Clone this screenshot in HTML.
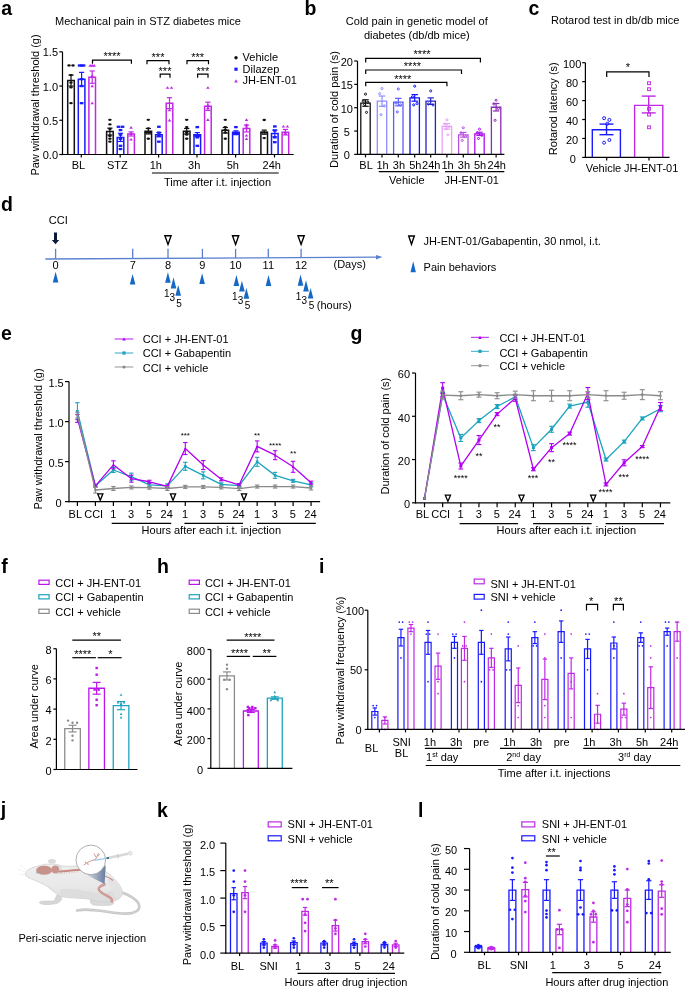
<!DOCTYPE html>
<html><head><meta charset="utf-8"><style>
html,body{margin:0;padding:0;background:#fff;}
svg{display:block;will-change:transform;}
text{font-family:"Liberation Sans", sans-serif;fill:#000;}
</style></head><body>
<svg width="685" height="989" viewBox="0 0 685 989">
<rect width="685" height="989" fill="#fff"/>
<text x="1.3" y="14.6" font-size="19.5" font-weight="bold">a</text>
<text x="304.4" y="14.8" font-size="19.5" font-weight="bold">b</text>
<text x="528.4" y="15" font-size="19.5" font-weight="bold">c</text>
<text x="1.1" y="211.4" font-size="19.5" font-weight="bold">d</text>
<text x="0.9" y="340.3" font-size="19.5" font-weight="bold">e</text>
<text x="350.5" y="340.1" font-size="19.5" font-weight="bold">g</text>
<text x="1.2" y="572.5" font-size="19.5" font-weight="bold">f</text>
<text x="157.1" y="572.5" font-size="19.5" font-weight="bold">h</text>
<text x="318.9" y="572.5" font-size="19.5" font-weight="bold">i</text>
<text x="0.8" y="816.3" font-size="19.5" font-weight="bold">j</text>
<text x="157.1" y="816.5" font-size="19.5" font-weight="bold">k</text>
<text x="418" y="816.5" font-size="19.5" font-weight="bold">l</text>
<text x="55" y="25" font-size="11">Mechanical pain in STZ diabetes mice</text>
<path d="M67.7 154.5V80.57H74.3V154.5" stroke="#111111" stroke-width="1.5" fill="#fff" stroke-linejoin="miter"/>
<path d="M78.3 154.5V79.2H84.9V154.5" stroke="#1a1aff" stroke-width="1.5" fill="#fff" stroke-linejoin="miter"/>
<path d="M88.9 154.5V77.15H95.5V154.5" stroke="#c028e6" stroke-width="1.5" fill="#fff" stroke-linejoin="miter"/>
<line x1="71" y1="75.1" x2="71" y2="86.05" stroke="#111111" stroke-width="1.2"/>
<line x1="68.4" y1="75.1" x2="73.6" y2="75.1" stroke="#111111" stroke-width="1.2"/>
<line x1="68.4" y1="86.05" x2="73.6" y2="86.05" stroke="#111111" stroke-width="1.2"/>
<ellipse cx="69" cy="65.51" rx="1.8" ry="1.15" fill="#111111"/>
<ellipse cx="73" cy="65.51" rx="1.8" ry="1.15" fill="#111111"/>
<ellipse cx="71" cy="75.1" rx="1.8" ry="1.15" fill="#111111"/>
<ellipse cx="71" cy="82.63" rx="1.8" ry="1.15" fill="#111111"/>
<ellipse cx="71" cy="87.42" rx="1.8" ry="1.15" fill="#111111"/>
<ellipse cx="71" cy="103.16" rx="1.8" ry="1.15" fill="#111111"/>
<line x1="81.6" y1="72.36" x2="81.6" y2="86.05" stroke="#1a1aff" stroke-width="1.2"/>
<line x1="79" y1="72.36" x2="84.2" y2="72.36" stroke="#1a1aff" stroke-width="1.2"/>
<line x1="79" y1="86.05" x2="84.2" y2="86.05" stroke="#1a1aff" stroke-width="1.2"/>
<rect x="77.8" y="64.36" width="3.6" height="2.3" fill="#1a1aff"/>
<rect x="79.8" y="64.36" width="3.6" height="2.3" fill="#1a1aff"/>
<rect x="81.8" y="64.36" width="3.6" height="2.3" fill="#1a1aff"/>
<rect x="79.8" y="78.05" width="3.6" height="2.3" fill="#1a1aff"/>
<rect x="79.8" y="84.9" width="3.6" height="2.3" fill="#1a1aff"/>
<rect x="79.8" y="102.01" width="3.6" height="2.3" fill="#1a1aff"/>
<line x1="92.2" y1="70.99" x2="92.2" y2="83.31" stroke="#c028e6" stroke-width="1.2"/>
<line x1="89.6" y1="70.99" x2="94.8" y2="70.99" stroke="#c028e6" stroke-width="1.2"/>
<line x1="89.6" y1="83.31" x2="94.8" y2="83.31" stroke="#c028e6" stroke-width="1.2"/>
<path d="M90.2 64.06L92 66.66L88.4 66.66Z" fill="#c028e6"/>
<path d="M92.2 64.06L94 66.66L90.4 66.66Z" fill="#c028e6"/>
<path d="M94.2 64.06L96 66.66L92.4 66.66Z" fill="#c028e6"/>
<path d="M92.2 74.33L94 76.93L90.4 76.93Z" fill="#c028e6"/>
<path d="M92.2 84.6L94 87.2L90.4 87.2Z" fill="#c028e6"/>
<path d="M92.2 101.71L94 104.31L90.4 104.31Z" fill="#c028e6"/>
<text x="78.5" y="168.8" font-size="11" text-anchor="middle">BL</text>
<path d="M106.6 154.5V131.57H113.2V154.5" stroke="#111111" stroke-width="1.5" fill="#fff" stroke-linejoin="miter"/>
<path d="M117.2 154.5V137.39H123.8V154.5" stroke="#1a1aff" stroke-width="1.5" fill="#fff" stroke-linejoin="miter"/>
<path d="M127.8 154.5V133.97H134.4V154.5" stroke="#c028e6" stroke-width="1.5" fill="#fff" stroke-linejoin="miter"/>
<line x1="109.9" y1="128.15" x2="109.9" y2="134.99" stroke="#111111" stroke-width="1.2"/>
<line x1="107.3" y1="128.15" x2="112.5" y2="128.15" stroke="#111111" stroke-width="1.2"/>
<line x1="107.3" y1="134.99" x2="112.5" y2="134.99" stroke="#111111" stroke-width="1.2"/>
<ellipse cx="109.9" cy="119.8" rx="1.8" ry="1.15" fill="#111111"/>
<ellipse cx="109.9" cy="124.38" rx="1.8" ry="1.15" fill="#111111"/>
<ellipse cx="109.9" cy="128.9" rx="1.8" ry="1.15" fill="#111111"/>
<ellipse cx="109.9" cy="136.02" rx="1.8" ry="1.15" fill="#111111"/>
<ellipse cx="109.9" cy="138.76" rx="1.8" ry="1.15" fill="#111111"/>
<ellipse cx="109.9" cy="141.7" rx="1.8" ry="1.15" fill="#111111"/>
<line x1="120.5" y1="133.28" x2="120.5" y2="141.49" stroke="#1a1aff" stroke-width="1.2"/>
<line x1="117.9" y1="133.28" x2="123.1" y2="133.28" stroke="#1a1aff" stroke-width="1.2"/>
<line x1="117.9" y1="141.49" x2="123.1" y2="141.49" stroke="#1a1aff" stroke-width="1.2"/>
<rect x="116.7" y="125.63" width="3.6" height="2.3" fill="#1a1aff"/>
<rect x="120.7" y="125.63" width="3.6" height="2.3" fill="#1a1aff"/>
<rect x="118.7" y="128.91" width="3.6" height="2.3" fill="#1a1aff"/>
<rect x="118.7" y="133.5" width="3.6" height="2.3" fill="#1a1aff"/>
<rect x="118.7" y="137.61" width="3.6" height="2.3" fill="#1a1aff"/>
<rect x="118.7" y="144.66" width="3.6" height="2.3" fill="#1a1aff"/>
<rect x="118.7" y="147.87" width="3.6" height="2.3" fill="#1a1aff"/>
<line x1="131.1" y1="131.91" x2="131.1" y2="136.02" stroke="#c028e6" stroke-width="1.2"/>
<line x1="128.5" y1="131.91" x2="133.7" y2="131.91" stroke="#c028e6" stroke-width="1.2"/>
<line x1="128.5" y1="136.02" x2="133.7" y2="136.02" stroke="#c028e6" stroke-width="1.2"/>
<path d="M131.1 126.08L132.9 128.68L129.3 128.68Z" fill="#c028e6"/>
<path d="M131.1 131.83L132.9 134.43L129.3 134.43Z" fill="#c028e6"/>
<path d="M131.1 132.51L132.9 135.12L129.3 135.12Z" fill="#c028e6"/>
<path d="M131.1 137.99L132.9 140.59L129.3 140.59Z" fill="#c028e6"/>
<text x="117.4" y="168.8" font-size="11" text-anchor="middle">STZ</text>
<path d="M145 154.5V131.23H151.6V154.5" stroke="#111111" stroke-width="1.5" fill="#fff" stroke-linejoin="miter"/>
<path d="M155.6 154.5V134.65H162.2V154.5" stroke="#1a1aff" stroke-width="1.5" fill="#fff" stroke-linejoin="miter"/>
<path d="M166.2 154.5V103.16H172.8V154.5" stroke="#c028e6" stroke-width="1.5" fill="#fff" stroke-linejoin="miter"/>
<line x1="148.3" y1="128.49" x2="148.3" y2="133.97" stroke="#111111" stroke-width="1.2"/>
<line x1="145.7" y1="128.49" x2="150.9" y2="128.49" stroke="#111111" stroke-width="1.2"/>
<line x1="145.7" y1="133.97" x2="150.9" y2="133.97" stroke="#111111" stroke-width="1.2"/>
<ellipse cx="148.3" cy="119.8" rx="1.8" ry="1.15" fill="#111111"/>
<ellipse cx="148.3" cy="128.28" rx="1.8" ry="1.15" fill="#111111"/>
<ellipse cx="146.3" cy="132.6" rx="1.8" ry="1.15" fill="#111111"/>
<ellipse cx="150.3" cy="132.6" rx="1.8" ry="1.15" fill="#111111"/>
<ellipse cx="148.3" cy="138.76" rx="1.8" ry="1.15" fill="#111111"/>
<line x1="158.9" y1="132.6" x2="158.9" y2="136.7" stroke="#1a1aff" stroke-width="1.2"/>
<line x1="156.3" y1="132.6" x2="161.5" y2="132.6" stroke="#1a1aff" stroke-width="1.2"/>
<line x1="156.3" y1="136.7" x2="161.5" y2="136.7" stroke="#1a1aff" stroke-width="1.2"/>
<rect x="157.1" y="125.63" width="3.6" height="2.3" fill="#1a1aff"/>
<rect x="157.1" y="131.45" width="3.6" height="2.3" fill="#1a1aff"/>
<rect x="157.1" y="134.87" width="3.6" height="2.3" fill="#1a1aff"/>
<rect x="157.1" y="140.55" width="3.6" height="2.3" fill="#1a1aff"/>
<line x1="169.5" y1="97.69" x2="169.5" y2="108.64" stroke="#c028e6" stroke-width="1.2"/>
<line x1="166.9" y1="97.69" x2="172.1" y2="97.69" stroke="#c028e6" stroke-width="1.2"/>
<line x1="166.9" y1="108.64" x2="172.1" y2="108.64" stroke="#c028e6" stroke-width="1.2"/>
<path d="M167.5 86.24L169.3 88.84L165.7 88.84Z" fill="#c028e6"/>
<path d="M171.5 86.24L173.3 88.84L169.7 88.84Z" fill="#c028e6"/>
<path d="M169.5 108.56L171.3 111.16L167.7 111.16Z" fill="#c028e6"/>
<path d="M169.5 118.83L171.3 121.43L167.7 121.43Z" fill="#c028e6"/>
<text x="155.8" y="168.8" font-size="11" text-anchor="middle">1h</text>
<path d="M183.4 154.5V131.23H190V154.5" stroke="#111111" stroke-width="1.5" fill="#fff" stroke-linejoin="miter"/>
<path d="M194 154.5V134.65H200.6V154.5" stroke="#1a1aff" stroke-width="1.5" fill="#fff" stroke-linejoin="miter"/>
<path d="M204.6 154.5V106.24H211.2V154.5" stroke="#c028e6" stroke-width="1.5" fill="#fff" stroke-linejoin="miter"/>
<line x1="186.7" y1="128.49" x2="186.7" y2="133.97" stroke="#111111" stroke-width="1.2"/>
<line x1="184.1" y1="128.49" x2="189.3" y2="128.49" stroke="#111111" stroke-width="1.2"/>
<line x1="184.1" y1="133.97" x2="189.3" y2="133.97" stroke="#111111" stroke-width="1.2"/>
<ellipse cx="186.7" cy="119.8" rx="1.8" ry="1.15" fill="#111111"/>
<ellipse cx="186.7" cy="127.12" rx="1.8" ry="1.15" fill="#111111"/>
<ellipse cx="186.7" cy="132.6" rx="1.8" ry="1.15" fill="#111111"/>
<ellipse cx="186.7" cy="134.65" rx="1.8" ry="1.15" fill="#111111"/>
<ellipse cx="186.7" cy="138.76" rx="1.8" ry="1.15" fill="#111111"/>
<line x1="197.3" y1="132.6" x2="197.3" y2="136.7" stroke="#1a1aff" stroke-width="1.2"/>
<line x1="194.7" y1="132.6" x2="199.9" y2="132.6" stroke="#1a1aff" stroke-width="1.2"/>
<line x1="194.7" y1="136.7" x2="199.9" y2="136.7" stroke="#1a1aff" stroke-width="1.2"/>
<rect x="195.5" y="125.97" width="3.6" height="2.3" fill="#1a1aff"/>
<rect x="193.5" y="134.18" width="3.6" height="2.3" fill="#1a1aff"/>
<rect x="195.5" y="134.18" width="3.6" height="2.3" fill="#1a1aff"/>
<rect x="197.5" y="134.18" width="3.6" height="2.3" fill="#1a1aff"/>
<rect x="195.5" y="136.24" width="3.6" height="2.3" fill="#1a1aff"/>
<rect x="195.5" y="144.66" width="3.6" height="2.3" fill="#1a1aff"/>
<line x1="207.9" y1="102.14" x2="207.9" y2="110.35" stroke="#c028e6" stroke-width="1.2"/>
<line x1="205.3" y1="102.14" x2="210.5" y2="102.14" stroke="#c028e6" stroke-width="1.2"/>
<line x1="205.3" y1="110.35" x2="210.5" y2="110.35" stroke="#c028e6" stroke-width="1.2"/>
<path d="M207.9 86.24L209.7 88.84L206.1 88.84Z" fill="#c028e6"/>
<path d="M207.9 103.77L209.7 106.37L206.1 106.37Z" fill="#c028e6"/>
<path d="M207.9 106.5L209.7 109.1L206.1 109.1Z" fill="#c028e6"/>
<path d="M207.9 118.35L209.7 120.95L206.1 120.95Z" fill="#c028e6"/>
<text x="194.2" y="168.8" font-size="11" text-anchor="middle">3h</text>
<path d="M222 154.5V130.27H228.6V154.5" stroke="#111111" stroke-width="1.5" fill="#fff" stroke-linejoin="miter"/>
<path d="M232.6 154.5V132.19H239.2V154.5" stroke="#1a1aff" stroke-width="1.5" fill="#fff" stroke-linejoin="miter"/>
<path d="M243.2 154.5V128.49H249.8V154.5" stroke="#c028e6" stroke-width="1.5" fill="#fff" stroke-linejoin="miter"/>
<line x1="225.3" y1="127.53" x2="225.3" y2="133.01" stroke="#111111" stroke-width="1.2"/>
<line x1="222.7" y1="127.53" x2="227.9" y2="127.53" stroke="#111111" stroke-width="1.2"/>
<line x1="222.7" y1="133.01" x2="227.9" y2="133.01" stroke="#111111" stroke-width="1.2"/>
<ellipse cx="225.3" cy="119.8" rx="1.8" ry="1.15" fill="#111111"/>
<ellipse cx="225.3" cy="127.12" rx="1.8" ry="1.15" fill="#111111"/>
<ellipse cx="225.3" cy="129.86" rx="1.8" ry="1.15" fill="#111111"/>
<ellipse cx="225.3" cy="132.6" rx="1.8" ry="1.15" fill="#111111"/>
<ellipse cx="225.3" cy="138.76" rx="1.8" ry="1.15" fill="#111111"/>
<line x1="235.9" y1="130.82" x2="235.9" y2="133.55" stroke="#1a1aff" stroke-width="1.2"/>
<line x1="233.3" y1="130.82" x2="238.5" y2="130.82" stroke="#1a1aff" stroke-width="1.2"/>
<line x1="233.3" y1="133.55" x2="238.5" y2="133.55" stroke="#1a1aff" stroke-width="1.2"/>
<rect x="234.1" y="125.97" width="3.6" height="2.3" fill="#1a1aff"/>
<rect x="232.1" y="132.81" width="3.6" height="2.3" fill="#1a1aff"/>
<rect x="233.43" y="132.81" width="3.6" height="2.3" fill="#1a1aff"/>
<rect x="234.77" y="132.81" width="3.6" height="2.3" fill="#1a1aff"/>
<rect x="236.1" y="132.81" width="3.6" height="2.3" fill="#1a1aff"/>
<line x1="246.5" y1="125.07" x2="246.5" y2="131.91" stroke="#c028e6" stroke-width="1.2"/>
<line x1="243.9" y1="125.07" x2="249.1" y2="125.07" stroke="#c028e6" stroke-width="1.2"/>
<line x1="243.9" y1="131.91" x2="249.1" y2="131.91" stroke="#c028e6" stroke-width="1.2"/>
<path d="M246.5 118.35L248.3 120.95L244.7 120.95Z" fill="#c028e6"/>
<path d="M246.5 123.34L248.3 125.94L244.7 125.94Z" fill="#c028e6"/>
<path d="M246.5 124.99L248.3 127.59L244.7 127.59Z" fill="#c028e6"/>
<path d="M246.5 133.88L248.3 136.48L244.7 136.48Z" fill="#c028e6"/>
<path d="M246.5 137.31L248.3 139.91L244.7 139.91Z" fill="#c028e6"/>
<text x="232.8" y="168.8" font-size="11" text-anchor="middle">5h</text>
<path d="M260.9 154.5V132.19H267.5V154.5" stroke="#111111" stroke-width="1.5" fill="#fff" stroke-linejoin="miter"/>
<path d="M271.5 154.5V133.49H278.1V154.5" stroke="#1a1aff" stroke-width="1.5" fill="#fff" stroke-linejoin="miter"/>
<path d="M282.1 154.5V132.19H288.7V154.5" stroke="#c028e6" stroke-width="1.5" fill="#fff" stroke-linejoin="miter"/>
<line x1="264.2" y1="130.13" x2="264.2" y2="134.24" stroke="#111111" stroke-width="1.2"/>
<line x1="261.6" y1="130.13" x2="266.8" y2="130.13" stroke="#111111" stroke-width="1.2"/>
<line x1="261.6" y1="134.24" x2="266.8" y2="134.24" stroke="#111111" stroke-width="1.2"/>
<ellipse cx="264.2" cy="120" rx="1.8" ry="1.15" fill="#111111"/>
<ellipse cx="262.2" cy="132.6" rx="1.8" ry="1.15" fill="#111111"/>
<ellipse cx="266.2" cy="132.6" rx="1.8" ry="1.15" fill="#111111"/>
<ellipse cx="264.2" cy="138.07" rx="1.8" ry="1.15" fill="#111111"/>
<line x1="274.8" y1="130.06" x2="274.8" y2="136.91" stroke="#1a1aff" stroke-width="1.2"/>
<line x1="272.2" y1="130.06" x2="277.4" y2="130.06" stroke="#1a1aff" stroke-width="1.2"/>
<line x1="272.2" y1="136.91" x2="277.4" y2="136.91" stroke="#1a1aff" stroke-width="1.2"/>
<rect x="273" y="125.29" width="3.6" height="2.3" fill="#1a1aff"/>
<rect x="273" y="129.39" width="3.6" height="2.3" fill="#1a1aff"/>
<rect x="273" y="136.24" width="3.6" height="2.3" fill="#1a1aff"/>
<rect x="273" y="141.03" width="3.6" height="2.3" fill="#1a1aff"/>
<line x1="285.4" y1="129.45" x2="285.4" y2="134.92" stroke="#c028e6" stroke-width="1.2"/>
<line x1="282.8" y1="129.45" x2="288" y2="129.45" stroke="#c028e6" stroke-width="1.2"/>
<line x1="282.8" y1="134.92" x2="288" y2="134.92" stroke="#c028e6" stroke-width="1.2"/>
<path d="M283.4 124.99L285.2 127.59L281.6 127.59Z" fill="#c028e6"/>
<path d="M287.4 124.99L289.2 127.59L285.6 127.59Z" fill="#c028e6"/>
<path d="M285.4 131.15L287.2 133.75L283.6 133.75Z" fill="#c028e6"/>
<path d="M285.4 132.51L287.2 135.12L283.6 135.12Z" fill="#c028e6"/>
<text x="271.7" y="168.8" font-size="11" text-anchor="middle">24h</text>
<line x1="152" y1="173" x2="278.7" y2="173" stroke="#000" stroke-width="1.2"/>
<text x="163.9" y="185.6" font-size="11">Time after i.t. injection</text>
<path d="M92.5 63.7V60.2H131.4V63.7" stroke="#000" stroke-width="1.2" fill="none"/>
<text x="112" y="60.42" font-size="11" text-anchor="middle">****</text>
<path d="M147 64.2V60.7H169V64.2" stroke="#000" stroke-width="1.2" fill="none"/>
<text x="158" y="60.92" font-size="11" text-anchor="middle">***</text>
<path d="M160.2 77.7V74.2H170V77.7" stroke="#000" stroke-width="1.2" fill="none"/>
<text x="165" y="75.32" font-size="11" text-anchor="middle">***</text>
<path d="M187 64.2V60.7H208.5V64.2" stroke="#000" stroke-width="1.2" fill="none"/>
<text x="197.7" y="60.92" font-size="11" text-anchor="middle">***</text>
<path d="M197.6 77.7V74.2H208V77.7" stroke="#000" stroke-width="1.2" fill="none"/>
<text x="202.8" y="75.32" font-size="11" text-anchor="middle">***</text>
<circle cx="236" cy="57.8" r="1.7" fill="#111111"/>
<text x="242.6" y="61.3" font-size="11">Vehicle</text>
<rect x="234.4" y="67.6" width="3.2" height="3.2" fill="#1a1aff"/>
<text x="242.6" y="72.8" font-size="11">Dilazep</text>
<path d="M236 79.22L237.76 82.38L234.24 82.38Z" fill="#c028e6"/>
<text x="242.6" y="84.3" font-size="11">JH-ENT-01</text>
<text x="416.8" y="24.8" font-size="11" text-anchor="middle">Cold pain in genetic model of</text>
<text x="416.8" y="38.5" font-size="11" text-anchor="middle">diabetes (db/db mice)</text>
<path d="M360.8 154.4V103.03H370.2V154.4" stroke="#111111" stroke-width="1.3" fill="#fff" stroke-linejoin="miter"/>
<path d="M377.3 154.4V101.16H386.7V154.4" stroke="#8f8fff" stroke-width="1.3" fill="#fff" stroke-linejoin="miter"/>
<path d="M393.6 154.4V102.1H403V154.4" stroke="#5c5cff" stroke-width="1.3" fill="#fff" stroke-linejoin="miter"/>
<path d="M410 154.4V97.89H419.4V154.4" stroke="#0f0fff" stroke-width="1.3" fill="#fff" stroke-linejoin="miter"/>
<path d="M426 154.4V101.16H435.4V154.4" stroke="#2222c8" stroke-width="1.3" fill="#fff" stroke-linejoin="miter"/>
<path d="M442.2 154.4V126.38H451.6V154.4" stroke="#e9a2f7" stroke-width="1.3" fill="#fff" stroke-linejoin="miter"/>
<path d="M458.6 154.4V134.79H468V154.4" stroke="#b94ee2" stroke-width="1.3" fill="#fff" stroke-linejoin="miter"/>
<path d="M474.8 154.4V133.85H484.2V154.4" stroke="#ad10ea" stroke-width="1.3" fill="#fff" stroke-linejoin="miter"/>
<path d="M491.4 154.4V107.23H500.8V154.4" stroke="#8c2cb4" stroke-width="1.3" fill="#fff" stroke-linejoin="miter"/>
<line x1="365.5" y1="99.76" x2="365.5" y2="106.3" stroke="#111111" stroke-width="1.2"/>
<line x1="362.3" y1="99.76" x2="368.7" y2="99.76" stroke="#111111" stroke-width="1.2"/>
<line x1="362.3" y1="106.3" x2="368.7" y2="106.3" stroke="#111111" stroke-width="1.2"/>
<circle cx="365.5" cy="94.16" r="1.05" stroke="#111111" stroke-width="1.0" fill="none"/>
<circle cx="363.2" cy="101.16" r="1.05" stroke="#111111" stroke-width="1.0" fill="none"/>
<circle cx="367.8" cy="102.1" r="1.05" stroke="#111111" stroke-width="1.0" fill="none"/>
<circle cx="364.5" cy="104.43" r="1.05" stroke="#111111" stroke-width="1.0" fill="none"/>
<circle cx="366.5" cy="112.37" r="1.05" stroke="#111111" stroke-width="1.0" fill="none"/>
<text x="366.1" y="168.6" font-size="11" text-anchor="middle">BL</text>
<line x1="382" y1="96.03" x2="382" y2="106.3" stroke="#8f8fff" stroke-width="1.2"/>
<line x1="378.8" y1="96.03" x2="385.2" y2="96.03" stroke="#8f8fff" stroke-width="1.2"/>
<line x1="378.8" y1="106.3" x2="385.2" y2="106.3" stroke="#8f8fff" stroke-width="1.2"/>
<circle cx="382" cy="88.55" r="1.05" stroke="#8f8fff" stroke-width="1.0" fill="none"/>
<circle cx="379.7" cy="93.69" r="1.05" stroke="#8f8fff" stroke-width="1.0" fill="none"/>
<circle cx="384.3" cy="105.83" r="1.05" stroke="#8f8fff" stroke-width="1.0" fill="none"/>
<circle cx="381" cy="114.71" r="1.05" stroke="#8f8fff" stroke-width="1.0" fill="none"/>
<text x="382.6" y="168.6" font-size="11" text-anchor="middle">1h</text>
<line x1="398.3" y1="98.36" x2="398.3" y2="105.83" stroke="#5c5cff" stroke-width="1.2"/>
<line x1="395.1" y1="98.36" x2="401.5" y2="98.36" stroke="#5c5cff" stroke-width="1.2"/>
<line x1="395.1" y1="105.83" x2="401.5" y2="105.83" stroke="#5c5cff" stroke-width="1.2"/>
<circle cx="398.3" cy="89.02" r="1.05" stroke="#5c5cff" stroke-width="1.0" fill="none"/>
<circle cx="396" cy="103.03" r="1.05" stroke="#5c5cff" stroke-width="1.0" fill="none"/>
<circle cx="400.6" cy="104.9" r="1.05" stroke="#5c5cff" stroke-width="1.0" fill="none"/>
<circle cx="397.3" cy="111.9" r="1.05" stroke="#5c5cff" stroke-width="1.0" fill="none"/>
<text x="398.9" y="168.6" font-size="11" text-anchor="middle">3h</text>
<line x1="414.7" y1="94.62" x2="414.7" y2="101.16" stroke="#0f0fff" stroke-width="1.2"/>
<line x1="411.5" y1="94.62" x2="417.9" y2="94.62" stroke="#0f0fff" stroke-width="1.2"/>
<line x1="411.5" y1="101.16" x2="417.9" y2="101.16" stroke="#0f0fff" stroke-width="1.2"/>
<circle cx="414.7" cy="86.22" r="1.05" stroke="#0f0fff" stroke-width="1.0" fill="none"/>
<circle cx="412.4" cy="96.96" r="1.05" stroke="#0f0fff" stroke-width="1.0" fill="none"/>
<circle cx="417" cy="103.5" r="1.05" stroke="#0f0fff" stroke-width="1.0" fill="none"/>
<circle cx="413.7" cy="104.9" r="1.05" stroke="#0f0fff" stroke-width="1.0" fill="none"/>
<text x="415.3" y="168.6" font-size="11" text-anchor="middle">5h</text>
<line x1="430.7" y1="97.89" x2="430.7" y2="104.43" stroke="#2222c8" stroke-width="1.2"/>
<line x1="427.5" y1="97.89" x2="433.9" y2="97.89" stroke="#2222c8" stroke-width="1.2"/>
<line x1="427.5" y1="104.43" x2="433.9" y2="104.43" stroke="#2222c8" stroke-width="1.2"/>
<circle cx="430.7" cy="90.89" r="1.05" stroke="#2222c8" stroke-width="1.0" fill="none"/>
<circle cx="428.4" cy="103.96" r="1.05" stroke="#2222c8" stroke-width="1.0" fill="none"/>
<circle cx="433" cy="104.9" r="1.05" stroke="#2222c8" stroke-width="1.0" fill="none"/>
<text x="431.3" y="168.6" font-size="11" text-anchor="middle">24h</text>
<line x1="446.9" y1="123.58" x2="446.9" y2="129.18" stroke="#e9a2f7" stroke-width="1.2"/>
<line x1="443.7" y1="123.58" x2="450.1" y2="123.58" stroke="#e9a2f7" stroke-width="1.2"/>
<line x1="443.7" y1="129.18" x2="450.1" y2="129.18" stroke="#e9a2f7" stroke-width="1.2"/>
<circle cx="446.9" cy="119.84" r="1.05" stroke="#e9a2f7" stroke-width="1.0" fill="none"/>
<circle cx="444.6" cy="124.05" r="1.05" stroke="#e9a2f7" stroke-width="1.0" fill="none"/>
<circle cx="449.2" cy="126.85" r="1.05" stroke="#e9a2f7" stroke-width="1.0" fill="none"/>
<circle cx="445.9" cy="128.72" r="1.05" stroke="#e9a2f7" stroke-width="1.0" fill="none"/>
<circle cx="447.9" cy="134.79" r="1.05" stroke="#e9a2f7" stroke-width="1.0" fill="none"/>
<text x="447.5" y="168.6" font-size="11" text-anchor="middle">1h</text>
<line x1="463.3" y1="132.45" x2="463.3" y2="137.12" stroke="#b94ee2" stroke-width="1.2"/>
<line x1="460.1" y1="132.45" x2="466.5" y2="132.45" stroke="#b94ee2" stroke-width="1.2"/>
<line x1="460.1" y1="137.12" x2="466.5" y2="137.12" stroke="#b94ee2" stroke-width="1.2"/>
<circle cx="463.3" cy="127.78" r="1.05" stroke="#b94ee2" stroke-width="1.0" fill="none"/>
<circle cx="461" cy="132.92" r="1.05" stroke="#b94ee2" stroke-width="1.0" fill="none"/>
<circle cx="465.6" cy="136.65" r="1.05" stroke="#b94ee2" stroke-width="1.0" fill="none"/>
<circle cx="462.3" cy="140.39" r="1.05" stroke="#b94ee2" stroke-width="1.0" fill="none"/>
<text x="463.9" y="168.6" font-size="11" text-anchor="middle">3h</text>
<line x1="479.5" y1="132.22" x2="479.5" y2="135.49" stroke="#ad10ea" stroke-width="1.2"/>
<line x1="476.3" y1="132.22" x2="482.7" y2="132.22" stroke="#ad10ea" stroke-width="1.2"/>
<line x1="476.3" y1="135.49" x2="482.7" y2="135.49" stroke="#ad10ea" stroke-width="1.2"/>
<circle cx="479.5" cy="129.18" r="1.05" stroke="#ad10ea" stroke-width="1.0" fill="none"/>
<circle cx="477.2" cy="132.92" r="1.05" stroke="#ad10ea" stroke-width="1.0" fill="none"/>
<circle cx="481.8" cy="135.25" r="1.05" stroke="#ad10ea" stroke-width="1.0" fill="none"/>
<circle cx="478.5" cy="138.52" r="1.05" stroke="#ad10ea" stroke-width="1.0" fill="none"/>
<text x="480.1" y="168.6" font-size="11" text-anchor="middle">5h</text>
<line x1="496.1" y1="103.5" x2="496.1" y2="110.97" stroke="#8c2cb4" stroke-width="1.2"/>
<line x1="492.9" y1="103.5" x2="499.3" y2="103.5" stroke="#8c2cb4" stroke-width="1.2"/>
<line x1="492.9" y1="110.97" x2="499.3" y2="110.97" stroke="#8c2cb4" stroke-width="1.2"/>
<circle cx="496.1" cy="100.23" r="1.05" stroke="#8c2cb4" stroke-width="1.0" fill="none"/>
<circle cx="493.8" cy="103.96" r="1.05" stroke="#8c2cb4" stroke-width="1.0" fill="none"/>
<circle cx="498.4" cy="108.63" r="1.05" stroke="#8c2cb4" stroke-width="1.0" fill="none"/>
<circle cx="495.1" cy="120.31" r="1.05" stroke="#8c2cb4" stroke-width="1.0" fill="none"/>
<text x="496.7" y="168.6" font-size="11" text-anchor="middle">24h</text>
<line x1="378.8" y1="171.6" x2="438.7" y2="171.6" stroke="#000" stroke-width="1.2"/>
<line x1="445" y1="171.6" x2="504.3" y2="171.6" stroke="#000" stroke-width="1.2"/>
<text x="406.8" y="184.1" font-size="11" text-anchor="middle">Vehicle</text>
<text x="471.7" y="184.1" font-size="11" text-anchor="middle">JH-ENT-01</text>
<path d="M365.7 62.4V58.4H480.4V62.4" stroke="#000" stroke-width="1.2" fill="none"/>
<text x="422" y="57.72" font-size="11" text-anchor="middle">****</text>
<path d="M365.7 74V70H461.5V74" stroke="#000" stroke-width="1.2" fill="none"/>
<text x="412.4" y="70.32" font-size="11" text-anchor="middle">****</text>
<path d="M365.7 86.3V82.3H446.9V86.3" stroke="#000" stroke-width="1.2" fill="none"/>
<text x="402.8" y="82.72" font-size="11" text-anchor="middle">****</text>
<text x="551" y="24.2" font-size="11">Rotarod test in db/db mice</text>
<path d="M592.3 157.4V129.75H620.4V157.4" stroke="#1a1aff" stroke-width="1.4" fill="#fff" stroke-linejoin="miter"/>
<path d="M634.6 157.4V105.41H662.8V157.4" stroke="#c028e6" stroke-width="1.4" fill="#fff" stroke-linejoin="miter"/>
<line x1="606.5" y1="124.1" x2="606.5" y2="134.7" stroke="#1a1aff" stroke-width="1.4"/>
<line x1="599.5" y1="124.1" x2="613.5" y2="124.1" stroke="#1a1aff" stroke-width="1.4"/>
<line x1="599.5" y1="134.7" x2="613.5" y2="134.7" stroke="#1a1aff" stroke-width="1.4"/>
<line x1="648.7" y1="96.1" x2="648.7" y2="112.9" stroke="#c028e6" stroke-width="1.4"/>
<line x1="641.7" y1="96.1" x2="655.7" y2="96.1" stroke="#c028e6" stroke-width="1.4"/>
<line x1="641.7" y1="112.9" x2="655.7" y2="112.9" stroke="#c028e6" stroke-width="1.4"/>
<circle cx="604.1" cy="118.2" r="1.5" stroke="#1a1aff" stroke-width="1" fill="none"/>
<circle cx="609.4" cy="119.9" r="1.5" stroke="#1a1aff" stroke-width="1" fill="none"/>
<circle cx="607.3" cy="123.7" r="1.5" stroke="#1a1aff" stroke-width="1" fill="none"/>
<circle cx="609.4" cy="140" r="1.5" stroke="#1a1aff" stroke-width="1" fill="none"/>
<circle cx="604.1" cy="142.7" r="1.5" stroke="#1a1aff" stroke-width="1" fill="none"/>
<rect x="647.6" y="81.8" width="2.8" height="2.8" fill="none" stroke="#c028e6" stroke-width="1"/>
<rect x="647.6" y="87.8" width="2.8" height="2.8" fill="none" stroke="#c028e6" stroke-width="1"/>
<rect x="647.6" y="107.4" width="2.8" height="2.8" fill="none" stroke="#c028e6" stroke-width="1"/>
<rect x="647.6" y="113.2" width="2.8" height="2.8" fill="none" stroke="#c028e6" stroke-width="1"/>
<rect x="647.6" y="125.9" width="2.8" height="2.8" fill="none" stroke="#c028e6" stroke-width="1"/>
<text x="603.5" y="172.4" font-size="11" text-anchor="middle">Vehicle</text>
<text x="651.1" y="172.4" font-size="11" text-anchor="middle">JH-ENT-01</text>
<path d="M606.7 77.1V71.8H649V77.1" stroke="#000" stroke-width="1.2" fill="none"/>
<text x="627.8" y="71.22" font-size="11" text-anchor="middle">*</text>
<text x="48.8" y="223.6" font-size="11">CCI</text>
<path d="M54 232.5H57V240H59.2L55.5 244.2L51.8 240H54Z" stroke="none" stroke-width="0" fill="#0a1a3a"/>
<line x1="45.4" y1="259" x2="378" y2="257.2" stroke="#5b80d0" stroke-width="1.3"/>
<path d="M376 255L382.5 257.1L376 259.4Z" stroke="none" stroke-width="0" fill="#5b80d0"/>
<line x1="55.6" y1="248.8" x2="55.6" y2="258.94" stroke="#5b80d0" stroke-width="1.3"/>
<text x="55.6" y="269.4" font-size="11" text-anchor="middle">0</text>
<line x1="132.7" y1="248.8" x2="132.7" y2="258.53" stroke="#5b80d0" stroke-width="1.3"/>
<text x="132.7" y="269.4" font-size="11" text-anchor="middle">7</text>
<line x1="168" y1="248.8" x2="168" y2="258.34" stroke="#5b80d0" stroke-width="1.3"/>
<text x="168" y="269.4" font-size="11" text-anchor="middle">8</text>
<line x1="202.4" y1="248.8" x2="202.4" y2="258.15" stroke="#5b80d0" stroke-width="1.3"/>
<text x="202.4" y="269.4" font-size="11" text-anchor="middle">9</text>
<line x1="235.6" y1="248.8" x2="235.6" y2="257.97" stroke="#5b80d0" stroke-width="1.3"/>
<text x="235.6" y="269.4" font-size="11" text-anchor="middle">10</text>
<line x1="268.3" y1="248.8" x2="268.3" y2="257.79" stroke="#5b80d0" stroke-width="1.3"/>
<text x="268.3" y="269.4" font-size="11" text-anchor="middle">11</text>
<line x1="301.1" y1="248.8" x2="301.1" y2="257.62" stroke="#5b80d0" stroke-width="1.3"/>
<text x="301.1" y="269.4" font-size="11" text-anchor="middle">12</text>
<text x="333.5" y="268.2" font-size="11">(Days)</text>
<path d="M55.6 271.8L58.4 282.6L52.8 282.6Z" stroke="none" stroke-width="0" fill="#1668c4"/>
<path d="M132.6 273.9L135.4 284.6L129.8 284.6Z" stroke="none" stroke-width="0" fill="#1668c4"/>
<path d="M202.1 273.2L204.9 284L199.3 284Z" stroke="none" stroke-width="0" fill="#1668c4"/>
<path d="M268.5 274.9L271.3 286L265.7 286Z" stroke="none" stroke-width="0" fill="#1668c4"/>
<path d="M167.9 272.2L170.7 282.8L165.1 282.8Z" stroke="none" stroke-width="0" fill="#1668c4"/>
<path d="M173.5 277.3L176.3 288.5L170.7 288.5Z" stroke="none" stroke-width="0" fill="#1668c4"/>
<path d="M178.2 285L181 295.8L175.4 295.8Z" stroke="none" stroke-width="0" fill="#1668c4"/>
<path d="M164.9 235.8H171.1L168 244.4Z" stroke="#000" stroke-width="1.4" fill="#fff" stroke-linejoin="miter"/>
<text x="166.7" y="297.4" font-size="10" text-anchor="middle">1</text>
<text x="172.3" y="301" font-size="10" text-anchor="middle">3</text>
<text x="179.1" y="306.9" font-size="10" text-anchor="middle">5</text>
<path d="M236.4 274.9L239.2 286L233.6 286Z" stroke="none" stroke-width="0" fill="#1668c4"/>
<path d="M241.9 280.7L244.7 291.5L239.1 291.5Z" stroke="none" stroke-width="0" fill="#1668c4"/>
<path d="M246.4 288L249.2 298.8L243.6 298.8Z" stroke="none" stroke-width="0" fill="#1668c4"/>
<path d="M232.5 235.8H238.7L235.6 244.4Z" stroke="#000" stroke-width="1.4" fill="#fff" stroke-linejoin="miter"/>
<text x="234.7" y="299.6" font-size="10" text-anchor="middle">1</text>
<text x="240.5" y="304.2" font-size="10" text-anchor="middle">3</text>
<text x="247.5" y="309.3" font-size="10" text-anchor="middle">5</text>
<path d="M300.5 274.6L303.3 285.7L297.7 285.7Z" stroke="none" stroke-width="0" fill="#1668c4"/>
<path d="M306 280.2L308.8 291.4L303.2 291.4Z" stroke="none" stroke-width="0" fill="#1668c4"/>
<path d="M310.6 287.9L313.4 298.5L307.8 298.5Z" stroke="none" stroke-width="0" fill="#1668c4"/>
<path d="M298 235.8H304.2L301.1 244.4Z" stroke="#000" stroke-width="1.4" fill="#fff" stroke-linejoin="miter"/>
<text x="298.6" y="299.9" font-size="10" text-anchor="middle">1</text>
<text x="304.3" y="303.6" font-size="10" text-anchor="middle">3</text>
<text x="311.5" y="308.6" font-size="10" text-anchor="middle">5</text>
<text x="316.8" y="308.7" font-size="11">(hours)</text>
<path d="M408.7 236H414.3L411.5 244.3Z" stroke="#000" stroke-width="1.4" fill="#fff" stroke-linejoin="miter"/>
<text x="423.6" y="244.5" font-size="11">JH-ENT-01/Gabapentin, 30 nmol, i.t.</text>
<path d="M413.2 261.2L415.9 272.2L410.5 272.2Z" stroke="none" stroke-width="0" fill="#1668c4"/>
<text x="423.6" y="271.2" font-size="11">Pain behaviors</text>
<text x="75.3" y="518.4" font-size="11" text-anchor="middle">BL</text>
<text x="93.7" y="518.4" font-size="11" text-anchor="middle">CCI</text>
<text x="113.2" y="518.4" font-size="11" text-anchor="middle">1</text>
<text x="131.17" y="518.4" font-size="11" text-anchor="middle">3</text>
<text x="149.14" y="518.4" font-size="11" text-anchor="middle">5</text>
<text x="166.71" y="518.4" font-size="11" text-anchor="middle">24</text>
<text x="185.08" y="518.4" font-size="11" text-anchor="middle">1</text>
<text x="203.05" y="518.4" font-size="11" text-anchor="middle">3</text>
<text x="221.02" y="518.4" font-size="11" text-anchor="middle">5</text>
<text x="238.59" y="518.4" font-size="11" text-anchor="middle">24</text>
<text x="256.96" y="518.4" font-size="11" text-anchor="middle">1</text>
<text x="274.93" y="518.4" font-size="11" text-anchor="middle">3</text>
<text x="292.9" y="518.4" font-size="11" text-anchor="middle">5</text>
<text x="310.47" y="518.4" font-size="11" text-anchor="middle">24</text>
<line x1="111.7" y1="523.4" x2="171.2" y2="523.4" stroke="#000" stroke-width="1.2"/>
<line x1="184.4" y1="523.4" x2="243" y2="523.4" stroke="#000" stroke-width="1.2"/>
<line x1="257" y1="523.4" x2="315.8" y2="523.4" stroke="#000" stroke-width="1.2"/>
<text x="141.6" y="534.4" font-size="11">Hours after each i.t. injection</text>
<path d="M77.4 411.2 L95.4 485.84 L113.4 470 L131.37 476.64 L149.34 484.8 L167.31 485.84 L185.28 466.32 L203.25 475.36 L221.22 484.32 L239.19 485.6 L257.16 461.84 L275.13 475.36 L293.1 480.8 L311.07 484.8" stroke="#1ca3bd" stroke-width="1.3" fill="none" stroke-linejoin="round"/>
<line x1="77.4" y1="402.7" x2="77.4" y2="419.7" stroke="#1ca3bd" stroke-width="1.1"/>
<line x1="75.2" y1="402.7" x2="79.6" y2="402.7" stroke="#1ca3bd" stroke-width="1.1"/>
<line x1="75.2" y1="419.7" x2="79.6" y2="419.7" stroke="#1ca3bd" stroke-width="1.1"/>
<line x1="95.4" y1="484.84" x2="95.4" y2="486.84" stroke="#1ca3bd" stroke-width="1.1"/>
<line x1="93.2" y1="484.84" x2="97.6" y2="484.84" stroke="#1ca3bd" stroke-width="1.1"/>
<line x1="93.2" y1="486.84" x2="97.6" y2="486.84" stroke="#1ca3bd" stroke-width="1.1"/>
<line x1="113.4" y1="467.5" x2="113.4" y2="472.5" stroke="#1ca3bd" stroke-width="1.1"/>
<line x1="111.2" y1="467.5" x2="115.6" y2="467.5" stroke="#1ca3bd" stroke-width="1.1"/>
<line x1="111.2" y1="472.5" x2="115.6" y2="472.5" stroke="#1ca3bd" stroke-width="1.1"/>
<line x1="131.37" y1="473.14" x2="131.37" y2="480.14" stroke="#1ca3bd" stroke-width="1.1"/>
<line x1="129.17" y1="473.14" x2="133.57" y2="473.14" stroke="#1ca3bd" stroke-width="1.1"/>
<line x1="129.17" y1="480.14" x2="133.57" y2="480.14" stroke="#1ca3bd" stroke-width="1.1"/>
<line x1="149.34" y1="482.8" x2="149.34" y2="486.8" stroke="#1ca3bd" stroke-width="1.1"/>
<line x1="147.14" y1="482.8" x2="151.54" y2="482.8" stroke="#1ca3bd" stroke-width="1.1"/>
<line x1="147.14" y1="486.8" x2="151.54" y2="486.8" stroke="#1ca3bd" stroke-width="1.1"/>
<line x1="167.31" y1="483.84" x2="167.31" y2="487.84" stroke="#1ca3bd" stroke-width="1.1"/>
<line x1="165.11" y1="483.84" x2="169.51" y2="483.84" stroke="#1ca3bd" stroke-width="1.1"/>
<line x1="165.11" y1="487.84" x2="169.51" y2="487.84" stroke="#1ca3bd" stroke-width="1.1"/>
<line x1="185.28" y1="462.32" x2="185.28" y2="470.32" stroke="#1ca3bd" stroke-width="1.1"/>
<line x1="183.08" y1="462.32" x2="187.48" y2="462.32" stroke="#1ca3bd" stroke-width="1.1"/>
<line x1="183.08" y1="470.32" x2="187.48" y2="470.32" stroke="#1ca3bd" stroke-width="1.1"/>
<line x1="203.25" y1="471.86" x2="203.25" y2="478.86" stroke="#1ca3bd" stroke-width="1.1"/>
<line x1="201.05" y1="471.86" x2="205.45" y2="471.86" stroke="#1ca3bd" stroke-width="1.1"/>
<line x1="201.05" y1="478.86" x2="205.45" y2="478.86" stroke="#1ca3bd" stroke-width="1.1"/>
<line x1="221.22" y1="482.82" x2="221.22" y2="485.82" stroke="#1ca3bd" stroke-width="1.1"/>
<line x1="219.02" y1="482.82" x2="223.42" y2="482.82" stroke="#1ca3bd" stroke-width="1.1"/>
<line x1="219.02" y1="485.82" x2="223.42" y2="485.82" stroke="#1ca3bd" stroke-width="1.1"/>
<line x1="239.19" y1="483.6" x2="239.19" y2="487.6" stroke="#1ca3bd" stroke-width="1.1"/>
<line x1="236.99" y1="483.6" x2="241.39" y2="483.6" stroke="#1ca3bd" stroke-width="1.1"/>
<line x1="236.99" y1="487.6" x2="241.39" y2="487.6" stroke="#1ca3bd" stroke-width="1.1"/>
<line x1="257.16" y1="457.34" x2="257.16" y2="466.34" stroke="#1ca3bd" stroke-width="1.1"/>
<line x1="254.96" y1="457.34" x2="259.36" y2="457.34" stroke="#1ca3bd" stroke-width="1.1"/>
<line x1="254.96" y1="466.34" x2="259.36" y2="466.34" stroke="#1ca3bd" stroke-width="1.1"/>
<line x1="275.13" y1="472.36" x2="275.13" y2="478.36" stroke="#1ca3bd" stroke-width="1.1"/>
<line x1="272.93" y1="472.36" x2="277.33" y2="472.36" stroke="#1ca3bd" stroke-width="1.1"/>
<line x1="272.93" y1="478.36" x2="277.33" y2="478.36" stroke="#1ca3bd" stroke-width="1.1"/>
<line x1="293.1" y1="479.3" x2="293.1" y2="482.3" stroke="#1ca3bd" stroke-width="1.1"/>
<line x1="290.9" y1="479.3" x2="295.3" y2="479.3" stroke="#1ca3bd" stroke-width="1.1"/>
<line x1="290.9" y1="482.3" x2="295.3" y2="482.3" stroke="#1ca3bd" stroke-width="1.1"/>
<line x1="311.07" y1="482.8" x2="311.07" y2="486.8" stroke="#1ca3bd" stroke-width="1.1"/>
<line x1="308.87" y1="482.8" x2="313.27" y2="482.8" stroke="#1ca3bd" stroke-width="1.1"/>
<line x1="308.87" y1="486.8" x2="313.27" y2="486.8" stroke="#1ca3bd" stroke-width="1.1"/>
<rect x="76.1" y="409.9" width="2.6" height="2.6" fill="#1ca3bd"/>
<rect x="94.1" y="484.54" width="2.6" height="2.6" fill="#1ca3bd"/>
<rect x="112.1" y="468.7" width="2.6" height="2.6" fill="#1ca3bd"/>
<rect x="130.07" y="475.34" width="2.6" height="2.6" fill="#1ca3bd"/>
<rect x="148.04" y="483.5" width="2.6" height="2.6" fill="#1ca3bd"/>
<rect x="166.01" y="484.54" width="2.6" height="2.6" fill="#1ca3bd"/>
<rect x="183.98" y="465.02" width="2.6" height="2.6" fill="#1ca3bd"/>
<rect x="201.95" y="474.06" width="2.6" height="2.6" fill="#1ca3bd"/>
<rect x="219.92" y="483.02" width="2.6" height="2.6" fill="#1ca3bd"/>
<rect x="237.89" y="484.3" width="2.6" height="2.6" fill="#1ca3bd"/>
<rect x="255.86" y="460.54" width="2.6" height="2.6" fill="#1ca3bd"/>
<rect x="273.83" y="474.06" width="2.6" height="2.6" fill="#1ca3bd"/>
<rect x="291.8" y="479.5" width="2.6" height="2.6" fill="#1ca3bd"/>
<rect x="309.77" y="483.5" width="2.6" height="2.6" fill="#1ca3bd"/>
<path d="M77.4 418.4 L95.4 485.84 L113.4 464.8 L131.37 478.64 L149.34 481.76 L167.31 486.4 L185.28 448.56 L203.25 465.04 L221.22 479.36 L239.19 484.8 L257.16 446.4 L275.13 455.2 L293.1 466.8 L311.07 482.64" stroke="#b000f2" stroke-width="1.3" fill="none" stroke-linejoin="round"/>
<line x1="77.4" y1="414.4" x2="77.4" y2="422.4" stroke="#b000f2" stroke-width="1.1"/>
<line x1="75.2" y1="414.4" x2="79.6" y2="414.4" stroke="#b000f2" stroke-width="1.1"/>
<line x1="75.2" y1="422.4" x2="79.6" y2="422.4" stroke="#b000f2" stroke-width="1.1"/>
<line x1="95.4" y1="484.84" x2="95.4" y2="486.84" stroke="#b000f2" stroke-width="1.1"/>
<line x1="93.2" y1="484.84" x2="97.6" y2="484.84" stroke="#b000f2" stroke-width="1.1"/>
<line x1="93.2" y1="486.84" x2="97.6" y2="486.84" stroke="#b000f2" stroke-width="1.1"/>
<line x1="113.4" y1="460.8" x2="113.4" y2="468.8" stroke="#b000f2" stroke-width="1.1"/>
<line x1="111.2" y1="460.8" x2="115.6" y2="460.8" stroke="#b000f2" stroke-width="1.1"/>
<line x1="111.2" y1="468.8" x2="115.6" y2="468.8" stroke="#b000f2" stroke-width="1.1"/>
<line x1="131.37" y1="475.14" x2="131.37" y2="482.14" stroke="#b000f2" stroke-width="1.1"/>
<line x1="129.17" y1="475.14" x2="133.57" y2="475.14" stroke="#b000f2" stroke-width="1.1"/>
<line x1="129.17" y1="482.14" x2="133.57" y2="482.14" stroke="#b000f2" stroke-width="1.1"/>
<line x1="149.34" y1="480.26" x2="149.34" y2="483.26" stroke="#b000f2" stroke-width="1.1"/>
<line x1="147.14" y1="480.26" x2="151.54" y2="480.26" stroke="#b000f2" stroke-width="1.1"/>
<line x1="147.14" y1="483.26" x2="151.54" y2="483.26" stroke="#b000f2" stroke-width="1.1"/>
<line x1="167.31" y1="485.4" x2="167.31" y2="487.4" stroke="#b000f2" stroke-width="1.1"/>
<line x1="165.11" y1="485.4" x2="169.51" y2="485.4" stroke="#b000f2" stroke-width="1.1"/>
<line x1="165.11" y1="487.4" x2="169.51" y2="487.4" stroke="#b000f2" stroke-width="1.1"/>
<line x1="185.28" y1="442.56" x2="185.28" y2="454.56" stroke="#b000f2" stroke-width="1.1"/>
<line x1="183.08" y1="442.56" x2="187.48" y2="442.56" stroke="#b000f2" stroke-width="1.1"/>
<line x1="183.08" y1="454.56" x2="187.48" y2="454.56" stroke="#b000f2" stroke-width="1.1"/>
<line x1="203.25" y1="460.54" x2="203.25" y2="469.54" stroke="#b000f2" stroke-width="1.1"/>
<line x1="201.05" y1="460.54" x2="205.45" y2="460.54" stroke="#b000f2" stroke-width="1.1"/>
<line x1="201.05" y1="469.54" x2="205.45" y2="469.54" stroke="#b000f2" stroke-width="1.1"/>
<line x1="221.22" y1="477.86" x2="221.22" y2="480.86" stroke="#b000f2" stroke-width="1.1"/>
<line x1="219.02" y1="477.86" x2="223.42" y2="477.86" stroke="#b000f2" stroke-width="1.1"/>
<line x1="219.02" y1="480.86" x2="223.42" y2="480.86" stroke="#b000f2" stroke-width="1.1"/>
<line x1="239.19" y1="483.8" x2="239.19" y2="485.8" stroke="#b000f2" stroke-width="1.1"/>
<line x1="236.99" y1="483.8" x2="241.39" y2="483.8" stroke="#b000f2" stroke-width="1.1"/>
<line x1="236.99" y1="485.8" x2="241.39" y2="485.8" stroke="#b000f2" stroke-width="1.1"/>
<line x1="257.16" y1="440.9" x2="257.16" y2="451.9" stroke="#b000f2" stroke-width="1.1"/>
<line x1="254.96" y1="440.9" x2="259.36" y2="440.9" stroke="#b000f2" stroke-width="1.1"/>
<line x1="254.96" y1="451.9" x2="259.36" y2="451.9" stroke="#b000f2" stroke-width="1.1"/>
<line x1="275.13" y1="450.7" x2="275.13" y2="459.7" stroke="#b000f2" stroke-width="1.1"/>
<line x1="272.93" y1="450.7" x2="277.33" y2="450.7" stroke="#b000f2" stroke-width="1.1"/>
<line x1="272.93" y1="459.7" x2="277.33" y2="459.7" stroke="#b000f2" stroke-width="1.1"/>
<line x1="293.1" y1="461.3" x2="293.1" y2="472.3" stroke="#b000f2" stroke-width="1.1"/>
<line x1="290.9" y1="461.3" x2="295.3" y2="461.3" stroke="#b000f2" stroke-width="1.1"/>
<line x1="290.9" y1="472.3" x2="295.3" y2="472.3" stroke="#b000f2" stroke-width="1.1"/>
<line x1="311.07" y1="481.14" x2="311.07" y2="484.14" stroke="#b000f2" stroke-width="1.1"/>
<line x1="308.87" y1="481.14" x2="313.27" y2="481.14" stroke="#b000f2" stroke-width="1.1"/>
<line x1="308.87" y1="484.14" x2="313.27" y2="484.14" stroke="#b000f2" stroke-width="1.1"/>
<path d="M77.4 417.11L78.83 419.69L75.97 419.69Z" fill="#b000f2"/>
<path d="M95.4 484.55L96.83 487.13L93.97 487.13Z" fill="#b000f2"/>
<path d="M113.4 463.51L114.83 466.09L111.97 466.09Z" fill="#b000f2"/>
<path d="M131.37 477.35L132.8 479.93L129.94 479.93Z" fill="#b000f2"/>
<path d="M149.34 480.47L150.77 483.05L147.91 483.05Z" fill="#b000f2"/>
<path d="M167.31 485.11L168.74 487.69L165.88 487.69Z" fill="#b000f2"/>
<path d="M185.28 447.27L186.71 449.85L183.85 449.85Z" fill="#b000f2"/>
<path d="M203.25 463.75L204.68 466.33L201.82 466.33Z" fill="#b000f2"/>
<path d="M221.22 478.07L222.65 480.65L219.79 480.65Z" fill="#b000f2"/>
<path d="M239.19 483.51L240.62 486.09L237.76 486.09Z" fill="#b000f2"/>
<path d="M257.16 445.11L258.59 447.69L255.73 447.69Z" fill="#b000f2"/>
<path d="M275.13 453.91L276.56 456.49L273.7 456.49Z" fill="#b000f2"/>
<path d="M293.1 465.51L294.53 468.09L291.67 468.09Z" fill="#b000f2"/>
<path d="M311.07 481.35L312.5 483.93L309.64 483.93Z" fill="#b000f2"/>
<path d="M77.4 415.2 L95.4 490 L113.4 488.48 L131.37 487.44 L149.34 487.68 L167.31 488.48 L185.28 486.88 L203.25 486.96 L221.22 487.44 L239.19 488.56 L257.16 486.56 L275.13 486.56 L293.1 486.56 L311.07 488" stroke="#8a8a8a" stroke-width="1.3" fill="none" stroke-linejoin="round"/>
<line x1="77.4" y1="412.2" x2="77.4" y2="418.2" stroke="#8a8a8a" stroke-width="1.1"/>
<line x1="75.2" y1="412.2" x2="79.6" y2="412.2" stroke="#8a8a8a" stroke-width="1.1"/>
<line x1="75.2" y1="418.2" x2="79.6" y2="418.2" stroke="#8a8a8a" stroke-width="1.1"/>
<line x1="95.4" y1="487" x2="95.4" y2="493" stroke="#8a8a8a" stroke-width="1.1"/>
<line x1="93.2" y1="487" x2="97.6" y2="487" stroke="#8a8a8a" stroke-width="1.1"/>
<line x1="93.2" y1="493" x2="97.6" y2="493" stroke="#8a8a8a" stroke-width="1.1"/>
<line x1="113.4" y1="486.48" x2="113.4" y2="490.48" stroke="#8a8a8a" stroke-width="1.1"/>
<line x1="111.2" y1="486.48" x2="115.6" y2="486.48" stroke="#8a8a8a" stroke-width="1.1"/>
<line x1="111.2" y1="490.48" x2="115.6" y2="490.48" stroke="#8a8a8a" stroke-width="1.1"/>
<line x1="131.37" y1="485.94" x2="131.37" y2="488.94" stroke="#8a8a8a" stroke-width="1.1"/>
<line x1="129.17" y1="485.94" x2="133.57" y2="485.94" stroke="#8a8a8a" stroke-width="1.1"/>
<line x1="129.17" y1="488.94" x2="133.57" y2="488.94" stroke="#8a8a8a" stroke-width="1.1"/>
<line x1="149.34" y1="486.18" x2="149.34" y2="489.18" stroke="#8a8a8a" stroke-width="1.1"/>
<line x1="147.14" y1="486.18" x2="151.54" y2="486.18" stroke="#8a8a8a" stroke-width="1.1"/>
<line x1="147.14" y1="489.18" x2="151.54" y2="489.18" stroke="#8a8a8a" stroke-width="1.1"/>
<line x1="167.31" y1="486.48" x2="167.31" y2="490.48" stroke="#8a8a8a" stroke-width="1.1"/>
<line x1="165.11" y1="486.48" x2="169.51" y2="486.48" stroke="#8a8a8a" stroke-width="1.1"/>
<line x1="165.11" y1="490.48" x2="169.51" y2="490.48" stroke="#8a8a8a" stroke-width="1.1"/>
<line x1="185.28" y1="485.38" x2="185.28" y2="488.38" stroke="#8a8a8a" stroke-width="1.1"/>
<line x1="183.08" y1="485.38" x2="187.48" y2="485.38" stroke="#8a8a8a" stroke-width="1.1"/>
<line x1="183.08" y1="488.38" x2="187.48" y2="488.38" stroke="#8a8a8a" stroke-width="1.1"/>
<line x1="203.25" y1="485.46" x2="203.25" y2="488.46" stroke="#8a8a8a" stroke-width="1.1"/>
<line x1="201.05" y1="485.46" x2="205.45" y2="485.46" stroke="#8a8a8a" stroke-width="1.1"/>
<line x1="201.05" y1="488.46" x2="205.45" y2="488.46" stroke="#8a8a8a" stroke-width="1.1"/>
<line x1="221.22" y1="485.94" x2="221.22" y2="488.94" stroke="#8a8a8a" stroke-width="1.1"/>
<line x1="219.02" y1="485.94" x2="223.42" y2="485.94" stroke="#8a8a8a" stroke-width="1.1"/>
<line x1="219.02" y1="488.94" x2="223.42" y2="488.94" stroke="#8a8a8a" stroke-width="1.1"/>
<line x1="239.19" y1="486.56" x2="239.19" y2="490.56" stroke="#8a8a8a" stroke-width="1.1"/>
<line x1="236.99" y1="486.56" x2="241.39" y2="486.56" stroke="#8a8a8a" stroke-width="1.1"/>
<line x1="236.99" y1="490.56" x2="241.39" y2="490.56" stroke="#8a8a8a" stroke-width="1.1"/>
<line x1="257.16" y1="485.06" x2="257.16" y2="488.06" stroke="#8a8a8a" stroke-width="1.1"/>
<line x1="254.96" y1="485.06" x2="259.36" y2="485.06" stroke="#8a8a8a" stroke-width="1.1"/>
<line x1="254.96" y1="488.06" x2="259.36" y2="488.06" stroke="#8a8a8a" stroke-width="1.1"/>
<line x1="275.13" y1="485.06" x2="275.13" y2="488.06" stroke="#8a8a8a" stroke-width="1.1"/>
<line x1="272.93" y1="485.06" x2="277.33" y2="485.06" stroke="#8a8a8a" stroke-width="1.1"/>
<line x1="272.93" y1="488.06" x2="277.33" y2="488.06" stroke="#8a8a8a" stroke-width="1.1"/>
<line x1="293.1" y1="485.06" x2="293.1" y2="488.06" stroke="#8a8a8a" stroke-width="1.1"/>
<line x1="290.9" y1="485.06" x2="295.3" y2="485.06" stroke="#8a8a8a" stroke-width="1.1"/>
<line x1="290.9" y1="488.06" x2="295.3" y2="488.06" stroke="#8a8a8a" stroke-width="1.1"/>
<line x1="311.07" y1="486" x2="311.07" y2="490" stroke="#8a8a8a" stroke-width="1.1"/>
<line x1="308.87" y1="486" x2="313.27" y2="486" stroke="#8a8a8a" stroke-width="1.1"/>
<line x1="308.87" y1="490" x2="313.27" y2="490" stroke="#8a8a8a" stroke-width="1.1"/>
<circle cx="77.4" cy="415.2" r="1.3" fill="#8a8a8a"/>
<circle cx="95.4" cy="490" r="1.3" fill="#8a8a8a"/>
<circle cx="113.4" cy="488.48" r="1.3" fill="#8a8a8a"/>
<circle cx="131.37" cy="487.44" r="1.3" fill="#8a8a8a"/>
<circle cx="149.34" cy="487.68" r="1.3" fill="#8a8a8a"/>
<circle cx="167.31" cy="488.48" r="1.3" fill="#8a8a8a"/>
<circle cx="185.28" cy="486.88" r="1.3" fill="#8a8a8a"/>
<circle cx="203.25" cy="486.96" r="1.3" fill="#8a8a8a"/>
<circle cx="221.22" cy="487.44" r="1.3" fill="#8a8a8a"/>
<circle cx="239.19" cy="488.56" r="1.3" fill="#8a8a8a"/>
<circle cx="257.16" cy="486.56" r="1.3" fill="#8a8a8a"/>
<circle cx="275.13" cy="486.56" r="1.3" fill="#8a8a8a"/>
<circle cx="293.1" cy="486.56" r="1.3" fill="#8a8a8a"/>
<circle cx="311.07" cy="488" r="1.3" fill="#8a8a8a"/>
<path d="M97.7 493.8H102.9L100.3 500.2Z" stroke="#000" stroke-width="1.3" fill="#fff"/>
<path d="M170.4 493.8H175.6L173 500.2Z" stroke="#000" stroke-width="1.3" fill="#fff"/>
<path d="M241.4 493.8H246.6L244 500.2Z" stroke="#000" stroke-width="1.3" fill="#fff"/>
<text x="185.3" y="437.66" font-size="8" text-anchor="middle">***</text>
<text x="257.1" y="437.66" font-size="8" text-anchor="middle">**</text>
<text x="275.2" y="447.66" font-size="8" text-anchor="middle">****</text>
<text x="293.2" y="456.46" font-size="8" text-anchor="middle">**</text>
<text x="42" y="439" font-size="11" text-anchor="middle" transform="rotate(-90 42 439)">Paw withdrawal threshold (g)</text>
<line x1="114.7" y1="339" x2="133.3" y2="339" stroke="#b000f2" stroke-width="0.9"/>
<path d="M124 337.42L125.76 340.58L122.24 340.58Z" fill="#b000f2"/>
<text x="142.7" y="343.2" font-size="11">CCI + JH-ENT-01</text>
<line x1="114.7" y1="353" x2="133.3" y2="353" stroke="#1ca3bd" stroke-width="0.9"/>
<rect x="122.4" y="351.4" width="3.2" height="3.2" fill="#1ca3bd"/>
<text x="142.7" y="357.2" font-size="11">CCI + Gabapentin</text>
<line x1="114.7" y1="367" x2="133.3" y2="367" stroke="#8a8a8a" stroke-width="0.9"/>
<circle cx="124" cy="367" r="1.6" fill="#8a8a8a"/>
<text x="142.7" y="371.6" font-size="11">CCI + vehicle</text>
<text x="422.5" y="518.3" font-size="11" text-anchor="middle">BL</text>
<text x="440.7" y="518.3" font-size="11" text-anchor="middle">CCI</text>
<text x="460.6" y="518.3" font-size="11" text-anchor="middle">1</text>
<text x="478.75" y="518.3" font-size="11" text-anchor="middle">3</text>
<text x="496.9" y="518.3" font-size="11" text-anchor="middle">5</text>
<text x="514.65" y="518.3" font-size="11" text-anchor="middle">24</text>
<text x="533.2" y="518.3" font-size="11" text-anchor="middle">1</text>
<text x="551.35" y="518.3" font-size="11" text-anchor="middle">3</text>
<text x="569.5" y="518.3" font-size="11" text-anchor="middle">5</text>
<text x="587.25" y="518.3" font-size="11" text-anchor="middle">24</text>
<text x="605.8" y="518.3" font-size="11" text-anchor="middle">1</text>
<text x="623.95" y="518.3" font-size="11" text-anchor="middle">3</text>
<text x="642.1" y="518.3" font-size="11" text-anchor="middle">5</text>
<text x="659.85" y="518.3" font-size="11" text-anchor="middle">24</text>
<line x1="459.6" y1="523.7" x2="518" y2="523.7" stroke="#000" stroke-width="1.2"/>
<line x1="533.1" y1="523.7" x2="591.6" y2="523.7" stroke="#000" stroke-width="1.2"/>
<line x1="605.6" y1="523.7" x2="664" y2="523.7" stroke="#000" stroke-width="1.2"/>
<text x="496.6" y="534.3" font-size="11">Hours after each i.t. injection</text>
<path d="M424.5 498.47 L442.65 394.65 L460.8 437.91 L478.95 420.61 L497.1 406.55 L515.25 396.81 L533.4 447.64 L551.55 429.26 L569.7 406.11 L587.85 402.22 L606 459.54 L624.15 441.59 L642.3 418.44 L660.45 408.71" stroke="#1ca3bd" stroke-width="1.3" fill="none" stroke-linejoin="round"/>
<line x1="442.65" y1="392.65" x2="442.65" y2="396.65" stroke="#1ca3bd" stroke-width="1.1"/>
<line x1="440.25" y1="392.65" x2="445.05" y2="392.65" stroke="#1ca3bd" stroke-width="1.1"/>
<line x1="440.25" y1="396.65" x2="445.05" y2="396.65" stroke="#1ca3bd" stroke-width="1.1"/>
<line x1="460.8" y1="434.41" x2="460.8" y2="441.41" stroke="#1ca3bd" stroke-width="1.1"/>
<line x1="458.4" y1="434.41" x2="463.2" y2="434.41" stroke="#1ca3bd" stroke-width="1.1"/>
<line x1="458.4" y1="441.41" x2="463.2" y2="441.41" stroke="#1ca3bd" stroke-width="1.1"/>
<line x1="478.95" y1="418.61" x2="478.95" y2="422.61" stroke="#1ca3bd" stroke-width="1.1"/>
<line x1="476.55" y1="418.61" x2="481.35" y2="418.61" stroke="#1ca3bd" stroke-width="1.1"/>
<line x1="476.55" y1="422.61" x2="481.35" y2="422.61" stroke="#1ca3bd" stroke-width="1.1"/>
<line x1="497.1" y1="404.55" x2="497.1" y2="408.55" stroke="#1ca3bd" stroke-width="1.1"/>
<line x1="494.7" y1="404.55" x2="499.5" y2="404.55" stroke="#1ca3bd" stroke-width="1.1"/>
<line x1="494.7" y1="408.55" x2="499.5" y2="408.55" stroke="#1ca3bd" stroke-width="1.1"/>
<line x1="515.25" y1="394.31" x2="515.25" y2="399.31" stroke="#1ca3bd" stroke-width="1.1"/>
<line x1="512.85" y1="394.31" x2="517.65" y2="394.31" stroke="#1ca3bd" stroke-width="1.1"/>
<line x1="512.85" y1="399.31" x2="517.65" y2="399.31" stroke="#1ca3bd" stroke-width="1.1"/>
<line x1="533.4" y1="444.64" x2="533.4" y2="450.64" stroke="#1ca3bd" stroke-width="1.1"/>
<line x1="531" y1="444.64" x2="535.8" y2="444.64" stroke="#1ca3bd" stroke-width="1.1"/>
<line x1="531" y1="450.64" x2="535.8" y2="450.64" stroke="#1ca3bd" stroke-width="1.1"/>
<line x1="551.55" y1="426.26" x2="551.55" y2="432.26" stroke="#1ca3bd" stroke-width="1.1"/>
<line x1="549.15" y1="426.26" x2="553.95" y2="426.26" stroke="#1ca3bd" stroke-width="1.1"/>
<line x1="549.15" y1="432.26" x2="553.95" y2="432.26" stroke="#1ca3bd" stroke-width="1.1"/>
<line x1="569.7" y1="404.11" x2="569.7" y2="408.11" stroke="#1ca3bd" stroke-width="1.1"/>
<line x1="567.3" y1="404.11" x2="572.1" y2="404.11" stroke="#1ca3bd" stroke-width="1.1"/>
<line x1="567.3" y1="408.11" x2="572.1" y2="408.11" stroke="#1ca3bd" stroke-width="1.1"/>
<line x1="587.85" y1="397.22" x2="587.85" y2="407.22" stroke="#1ca3bd" stroke-width="1.1"/>
<line x1="585.45" y1="397.22" x2="590.25" y2="397.22" stroke="#1ca3bd" stroke-width="1.1"/>
<line x1="585.45" y1="407.22" x2="590.25" y2="407.22" stroke="#1ca3bd" stroke-width="1.1"/>
<line x1="606" y1="458.04" x2="606" y2="461.04" stroke="#1ca3bd" stroke-width="1.1"/>
<line x1="603.6" y1="458.04" x2="608.4" y2="458.04" stroke="#1ca3bd" stroke-width="1.1"/>
<line x1="603.6" y1="461.04" x2="608.4" y2="461.04" stroke="#1ca3bd" stroke-width="1.1"/>
<line x1="624.15" y1="440.09" x2="624.15" y2="443.09" stroke="#1ca3bd" stroke-width="1.1"/>
<line x1="621.75" y1="440.09" x2="626.55" y2="440.09" stroke="#1ca3bd" stroke-width="1.1"/>
<line x1="621.75" y1="443.09" x2="626.55" y2="443.09" stroke="#1ca3bd" stroke-width="1.1"/>
<line x1="642.3" y1="416.94" x2="642.3" y2="419.94" stroke="#1ca3bd" stroke-width="1.1"/>
<line x1="639.9" y1="416.94" x2="644.7" y2="416.94" stroke="#1ca3bd" stroke-width="1.1"/>
<line x1="639.9" y1="419.94" x2="644.7" y2="419.94" stroke="#1ca3bd" stroke-width="1.1"/>
<line x1="660.45" y1="405.71" x2="660.45" y2="411.71" stroke="#1ca3bd" stroke-width="1.1"/>
<line x1="658.05" y1="405.71" x2="662.85" y2="405.71" stroke="#1ca3bd" stroke-width="1.1"/>
<line x1="658.05" y1="411.71" x2="662.85" y2="411.71" stroke="#1ca3bd" stroke-width="1.1"/>
<rect x="423" y="496.97" width="3" height="3" fill="#1ca3bd"/>
<rect x="441.15" y="393.15" width="3" height="3" fill="#1ca3bd"/>
<rect x="459.3" y="436.41" width="3" height="3" fill="#1ca3bd"/>
<rect x="477.45" y="419.11" width="3" height="3" fill="#1ca3bd"/>
<rect x="495.6" y="405.05" width="3" height="3" fill="#1ca3bd"/>
<rect x="513.75" y="395.31" width="3" height="3" fill="#1ca3bd"/>
<rect x="531.9" y="446.14" width="3" height="3" fill="#1ca3bd"/>
<rect x="550.05" y="427.76" width="3" height="3" fill="#1ca3bd"/>
<rect x="568.2" y="404.61" width="3" height="3" fill="#1ca3bd"/>
<rect x="586.35" y="400.72" width="3" height="3" fill="#1ca3bd"/>
<rect x="604.5" y="458.04" width="3" height="3" fill="#1ca3bd"/>
<rect x="622.65" y="440.09" width="3" height="3" fill="#1ca3bd"/>
<rect x="640.8" y="416.94" width="3" height="3" fill="#1ca3bd"/>
<rect x="658.95" y="407.21" width="3" height="3" fill="#1ca3bd"/>
<path d="M424.5 498.47 L442.65 388.16 L460.8 466.03 L478.95 440.07 L497.1 414.12 L515.25 398.33 L533.4 469.27 L551.55 447.64 L569.7 433.58 L587.85 393.57 L606 484.41 L624.15 462.78 L642.3 446.56 L660.45 406.55" stroke="#b000f2" stroke-width="1.3" fill="none" stroke-linejoin="round"/>
<line x1="442.65" y1="382.66" x2="442.65" y2="393.66" stroke="#b000f2" stroke-width="1.1"/>
<line x1="440.25" y1="382.66" x2="445.05" y2="382.66" stroke="#b000f2" stroke-width="1.1"/>
<line x1="440.25" y1="393.66" x2="445.05" y2="393.66" stroke="#b000f2" stroke-width="1.1"/>
<line x1="460.8" y1="463.03" x2="460.8" y2="469.03" stroke="#b000f2" stroke-width="1.1"/>
<line x1="458.4" y1="463.03" x2="463.2" y2="463.03" stroke="#b000f2" stroke-width="1.1"/>
<line x1="458.4" y1="469.03" x2="463.2" y2="469.03" stroke="#b000f2" stroke-width="1.1"/>
<line x1="478.95" y1="435.57" x2="478.95" y2="444.57" stroke="#b000f2" stroke-width="1.1"/>
<line x1="476.55" y1="435.57" x2="481.35" y2="435.57" stroke="#b000f2" stroke-width="1.1"/>
<line x1="476.55" y1="444.57" x2="481.35" y2="444.57" stroke="#b000f2" stroke-width="1.1"/>
<line x1="497.1" y1="412.62" x2="497.1" y2="415.62" stroke="#b000f2" stroke-width="1.1"/>
<line x1="494.7" y1="412.62" x2="499.5" y2="412.62" stroke="#b000f2" stroke-width="1.1"/>
<line x1="494.7" y1="415.62" x2="499.5" y2="415.62" stroke="#b000f2" stroke-width="1.1"/>
<line x1="515.25" y1="395.33" x2="515.25" y2="401.33" stroke="#b000f2" stroke-width="1.1"/>
<line x1="512.85" y1="395.33" x2="517.65" y2="395.33" stroke="#b000f2" stroke-width="1.1"/>
<line x1="512.85" y1="401.33" x2="517.65" y2="401.33" stroke="#b000f2" stroke-width="1.1"/>
<line x1="533.4" y1="467.77" x2="533.4" y2="470.77" stroke="#b000f2" stroke-width="1.1"/>
<line x1="531" y1="467.77" x2="535.8" y2="467.77" stroke="#b000f2" stroke-width="1.1"/>
<line x1="531" y1="470.77" x2="535.8" y2="470.77" stroke="#b000f2" stroke-width="1.1"/>
<line x1="551.55" y1="443.64" x2="551.55" y2="451.64" stroke="#b000f2" stroke-width="1.1"/>
<line x1="549.15" y1="443.64" x2="553.95" y2="443.64" stroke="#b000f2" stroke-width="1.1"/>
<line x1="549.15" y1="451.64" x2="553.95" y2="451.64" stroke="#b000f2" stroke-width="1.1"/>
<line x1="569.7" y1="432.08" x2="569.7" y2="435.08" stroke="#b000f2" stroke-width="1.1"/>
<line x1="567.3" y1="432.08" x2="572.1" y2="432.08" stroke="#b000f2" stroke-width="1.1"/>
<line x1="567.3" y1="435.08" x2="572.1" y2="435.08" stroke="#b000f2" stroke-width="1.1"/>
<line x1="587.85" y1="387.57" x2="587.85" y2="399.57" stroke="#b000f2" stroke-width="1.1"/>
<line x1="585.45" y1="387.57" x2="590.25" y2="387.57" stroke="#b000f2" stroke-width="1.1"/>
<line x1="585.45" y1="399.57" x2="590.25" y2="399.57" stroke="#b000f2" stroke-width="1.1"/>
<line x1="606" y1="482.91" x2="606" y2="485.91" stroke="#b000f2" stroke-width="1.1"/>
<line x1="603.6" y1="482.91" x2="608.4" y2="482.91" stroke="#b000f2" stroke-width="1.1"/>
<line x1="603.6" y1="485.91" x2="608.4" y2="485.91" stroke="#b000f2" stroke-width="1.1"/>
<line x1="624.15" y1="459.78" x2="624.15" y2="465.78" stroke="#b000f2" stroke-width="1.1"/>
<line x1="621.75" y1="459.78" x2="626.55" y2="459.78" stroke="#b000f2" stroke-width="1.1"/>
<line x1="621.75" y1="465.78" x2="626.55" y2="465.78" stroke="#b000f2" stroke-width="1.1"/>
<line x1="642.3" y1="445.56" x2="642.3" y2="447.56" stroke="#b000f2" stroke-width="1.1"/>
<line x1="639.9" y1="445.56" x2="644.7" y2="445.56" stroke="#b000f2" stroke-width="1.1"/>
<line x1="639.9" y1="447.56" x2="644.7" y2="447.56" stroke="#b000f2" stroke-width="1.1"/>
<line x1="660.45" y1="402.55" x2="660.45" y2="410.55" stroke="#b000f2" stroke-width="1.1"/>
<line x1="658.05" y1="402.55" x2="662.85" y2="402.55" stroke="#b000f2" stroke-width="1.1"/>
<line x1="658.05" y1="410.55" x2="662.85" y2="410.55" stroke="#b000f2" stroke-width="1.1"/>
<rect x="423" y="496.97" width="3" height="3" fill="#b000f2"/>
<rect x="441.15" y="386.66" width="3" height="3" fill="#b000f2"/>
<rect x="459.3" y="464.53" width="3" height="3" fill="#b000f2"/>
<rect x="477.45" y="438.57" width="3" height="3" fill="#b000f2"/>
<rect x="495.6" y="412.62" width="3" height="3" fill="#b000f2"/>
<rect x="513.75" y="396.83" width="3" height="3" fill="#b000f2"/>
<rect x="531.9" y="467.77" width="3" height="3" fill="#b000f2"/>
<rect x="550.05" y="446.14" width="3" height="3" fill="#b000f2"/>
<rect x="568.2" y="432.08" width="3" height="3" fill="#b000f2"/>
<rect x="586.35" y="392.07" width="3" height="3" fill="#b000f2"/>
<rect x="604.5" y="482.91" width="3" height="3" fill="#b000f2"/>
<rect x="622.65" y="461.28" width="3" height="3" fill="#b000f2"/>
<rect x="640.8" y="445.06" width="3" height="3" fill="#b000f2"/>
<rect x="658.95" y="405.05" width="3" height="3" fill="#b000f2"/>
<path d="M424.5 498.47 L442.65 395.08 L460.8 395.73 L478.95 394.65 L497.1 395.73 L515.25 394.65 L533.4 395.73 L551.55 395.73 L569.7 395.73 L587.85 394.65 L606 395.73 L624.15 395.73 L642.3 394.65 L660.45 395.73" stroke="#8a8a8a" stroke-width="1.3" fill="none" stroke-linejoin="round"/>
<line x1="442.65" y1="391.08" x2="442.65" y2="399.08" stroke="#8a8a8a" stroke-width="1.1"/>
<line x1="440.15" y1="391.08" x2="445.15" y2="391.08" stroke="#8a8a8a" stroke-width="1.1"/>
<line x1="440.15" y1="399.08" x2="445.15" y2="399.08" stroke="#8a8a8a" stroke-width="1.1"/>
<line x1="460.8" y1="391.73" x2="460.8" y2="399.73" stroke="#8a8a8a" stroke-width="1.1"/>
<line x1="458.3" y1="391.73" x2="463.3" y2="391.73" stroke="#8a8a8a" stroke-width="1.1"/>
<line x1="458.3" y1="399.73" x2="463.3" y2="399.73" stroke="#8a8a8a" stroke-width="1.1"/>
<line x1="478.95" y1="392.15" x2="478.95" y2="397.15" stroke="#8a8a8a" stroke-width="1.1"/>
<line x1="476.45" y1="392.15" x2="481.45" y2="392.15" stroke="#8a8a8a" stroke-width="1.1"/>
<line x1="476.45" y1="397.15" x2="481.45" y2="397.15" stroke="#8a8a8a" stroke-width="1.1"/>
<line x1="497.1" y1="392.73" x2="497.1" y2="398.73" stroke="#8a8a8a" stroke-width="1.1"/>
<line x1="494.6" y1="392.73" x2="499.6" y2="392.73" stroke="#8a8a8a" stroke-width="1.1"/>
<line x1="494.6" y1="398.73" x2="499.6" y2="398.73" stroke="#8a8a8a" stroke-width="1.1"/>
<line x1="515.25" y1="391.15" x2="515.25" y2="398.15" stroke="#8a8a8a" stroke-width="1.1"/>
<line x1="512.75" y1="391.15" x2="517.75" y2="391.15" stroke="#8a8a8a" stroke-width="1.1"/>
<line x1="512.75" y1="398.15" x2="517.75" y2="398.15" stroke="#8a8a8a" stroke-width="1.1"/>
<line x1="533.4" y1="390.73" x2="533.4" y2="400.73" stroke="#8a8a8a" stroke-width="1.1"/>
<line x1="530.9" y1="390.73" x2="535.9" y2="390.73" stroke="#8a8a8a" stroke-width="1.1"/>
<line x1="530.9" y1="400.73" x2="535.9" y2="400.73" stroke="#8a8a8a" stroke-width="1.1"/>
<line x1="551.55" y1="390.23" x2="551.55" y2="401.23" stroke="#8a8a8a" stroke-width="1.1"/>
<line x1="549.05" y1="390.23" x2="554.05" y2="390.23" stroke="#8a8a8a" stroke-width="1.1"/>
<line x1="549.05" y1="401.23" x2="554.05" y2="401.23" stroke="#8a8a8a" stroke-width="1.1"/>
<line x1="569.7" y1="390.73" x2="569.7" y2="400.73" stroke="#8a8a8a" stroke-width="1.1"/>
<line x1="567.2" y1="390.73" x2="572.2" y2="390.73" stroke="#8a8a8a" stroke-width="1.1"/>
<line x1="567.2" y1="400.73" x2="572.2" y2="400.73" stroke="#8a8a8a" stroke-width="1.1"/>
<line x1="587.85" y1="391.65" x2="587.85" y2="397.65" stroke="#8a8a8a" stroke-width="1.1"/>
<line x1="585.35" y1="391.65" x2="590.35" y2="391.65" stroke="#8a8a8a" stroke-width="1.1"/>
<line x1="585.35" y1="397.65" x2="590.35" y2="397.65" stroke="#8a8a8a" stroke-width="1.1"/>
<line x1="606" y1="390.73" x2="606" y2="400.73" stroke="#8a8a8a" stroke-width="1.1"/>
<line x1="603.5" y1="390.73" x2="608.5" y2="390.73" stroke="#8a8a8a" stroke-width="1.1"/>
<line x1="603.5" y1="400.73" x2="608.5" y2="400.73" stroke="#8a8a8a" stroke-width="1.1"/>
<line x1="624.15" y1="392.23" x2="624.15" y2="399.23" stroke="#8a8a8a" stroke-width="1.1"/>
<line x1="621.65" y1="392.23" x2="626.65" y2="392.23" stroke="#8a8a8a" stroke-width="1.1"/>
<line x1="621.65" y1="399.23" x2="626.65" y2="399.23" stroke="#8a8a8a" stroke-width="1.1"/>
<line x1="642.3" y1="389.65" x2="642.3" y2="399.65" stroke="#8a8a8a" stroke-width="1.1"/>
<line x1="639.8" y1="389.65" x2="644.8" y2="389.65" stroke="#8a8a8a" stroke-width="1.1"/>
<line x1="639.8" y1="399.65" x2="644.8" y2="399.65" stroke="#8a8a8a" stroke-width="1.1"/>
<line x1="660.45" y1="391.73" x2="660.45" y2="399.73" stroke="#8a8a8a" stroke-width="1.1"/>
<line x1="657.95" y1="391.73" x2="662.95" y2="391.73" stroke="#8a8a8a" stroke-width="1.1"/>
<line x1="657.95" y1="399.73" x2="662.95" y2="399.73" stroke="#8a8a8a" stroke-width="1.1"/>
<circle cx="424.5" cy="498.47" r="1.3" fill="#8a8a8a"/>
<circle cx="442.65" cy="395.08" r="1.3" fill="#8a8a8a"/>
<circle cx="460.8" cy="395.73" r="1.3" fill="#8a8a8a"/>
<circle cx="478.95" cy="394.65" r="1.3" fill="#8a8a8a"/>
<circle cx="497.1" cy="395.73" r="1.3" fill="#8a8a8a"/>
<circle cx="515.25" cy="394.65" r="1.3" fill="#8a8a8a"/>
<circle cx="533.4" cy="395.73" r="1.3" fill="#8a8a8a"/>
<circle cx="551.55" cy="395.73" r="1.3" fill="#8a8a8a"/>
<circle cx="569.7" cy="395.73" r="1.3" fill="#8a8a8a"/>
<circle cx="587.85" cy="394.65" r="1.3" fill="#8a8a8a"/>
<circle cx="606" cy="395.73" r="1.3" fill="#8a8a8a"/>
<circle cx="624.15" cy="395.73" r="1.3" fill="#8a8a8a"/>
<circle cx="642.3" cy="394.65" r="1.3" fill="#8a8a8a"/>
<circle cx="660.45" cy="395.73" r="1.3" fill="#8a8a8a"/>
<path d="M445.3 495.2H450.5L447.9 501.4Z" stroke="#000" stroke-width="1.3" fill="#fff"/>
<path d="M518.9 495.2H524.1L521.5 501.4Z" stroke="#000" stroke-width="1.3" fill="#fff"/>
<path d="M590.6 495.2H595.8L593.2 501.4Z" stroke="#000" stroke-width="1.3" fill="#fff"/>
<text x="460.7" y="480.88" font-size="9" text-anchor="middle">****</text>
<text x="479" y="458.98" font-size="9" text-anchor="middle">**</text>
<text x="497" y="430.18" font-size="9" text-anchor="middle">**</text>
<text x="533.1" y="480.68" font-size="9" text-anchor="middle">***</text>
<text x="551.4" y="464.98" font-size="9" text-anchor="middle">**</text>
<text x="569.4" y="447.58" font-size="9" text-anchor="middle">****</text>
<text x="605.6" y="495.48" font-size="9" text-anchor="middle">****</text>
<text x="623.8" y="479.78" font-size="9" text-anchor="middle">***</text>
<text x="642.3" y="462.28" font-size="9" text-anchor="middle">****</text>
<text x="389.3" y="436.1" font-size="11" text-anchor="middle" transform="rotate(-90 389.3 436.1)">Duration of cold pain (s)</text>
<line x1="471" y1="337.3" x2="488.9" y2="337.3" stroke="#b000f2" stroke-width="0.9"/>
<path d="M480 335.72L481.76 338.88L478.24 338.88Z" fill="#b000f2"/>
<text x="499.4" y="342.1" font-size="11">CCI + JH-ENT-01</text>
<line x1="471" y1="351.3" x2="488.9" y2="351.3" stroke="#1ca3bd" stroke-width="0.9"/>
<rect x="478.4" y="349.7" width="3.2" height="3.2" fill="#1ca3bd"/>
<text x="499.4" y="356.5" font-size="11">CCI + Gabapentin</text>
<line x1="471" y1="365.7" x2="488.9" y2="365.7" stroke="#8a8a8a" stroke-width="0.9"/>
<circle cx="480" cy="365.7" r="1.6" fill="#8a8a8a"/>
<text x="499.4" y="370.2" font-size="11">CCI + vehicle</text>
<text x="39" y="105" font-size="11" text-anchor="middle" transform="rotate(-90 39 105)">Paw withdrawal threshold (g)</text>
<text x="337.5" y="109.5" font-size="11" text-anchor="middle" transform="rotate(-90 337.5 109.5)">Duration of cold pain (s)</text>
<text x="556.8" y="108.7" font-size="11" text-anchor="middle" transform="rotate(-90 556.8 108.7)">Rotarod latency (s)</text>
<path d="M64.75 769.5V728.58H80.35V769.5" stroke="#8c8c8c" stroke-width="1.3" fill="#fff" stroke-linejoin="miter"/>
<path d="M88.85 769.5V688.26H104.45V769.5" stroke="#bd14ea" stroke-width="1.3" fill="#fff" stroke-linejoin="miter"/>
<path d="M113.25 769.5V705.63H128.85V769.5" stroke="#1ca3bd" stroke-width="1.3" fill="#fff" stroke-linejoin="miter"/>
<line x1="72.55" y1="725.26" x2="72.55" y2="731.9" stroke="#8c8c8c" stroke-width="1.2"/>
<line x1="68.55" y1="725.26" x2="76.55" y2="725.26" stroke="#8c8c8c" stroke-width="1.2"/>
<line x1="68.55" y1="731.9" x2="76.55" y2="731.9" stroke="#8c8c8c" stroke-width="1.2"/>
<circle cx="68.05" cy="720.58" r="1.2" fill="#8c8c8c"/>
<circle cx="72.55" cy="722.69" r="1.2" fill="#8c8c8c"/>
<circle cx="77.05" cy="722.69" r="1.2" fill="#8c8c8c"/>
<circle cx="72.55" cy="735.68" r="1.2" fill="#8c8c8c"/>
<circle cx="72.55" cy="740.36" r="1.2" fill="#8c8c8c"/>
<line x1="96.65" y1="682.37" x2="96.65" y2="694.15" stroke="#bd14ea" stroke-width="1.2"/>
<line x1="92.65" y1="682.37" x2="100.65" y2="682.37" stroke="#bd14ea" stroke-width="1.2"/>
<line x1="92.65" y1="694.15" x2="100.65" y2="694.15" stroke="#bd14ea" stroke-width="1.2"/>
<rect x="95.45" y="666.83" width="2.4" height="2.4" fill="#bd14ea"/>
<rect x="95.45" y="673.47" width="2.4" height="2.4" fill="#bd14ea"/>
<rect x="93.45" y="688.42" width="2.4" height="2.4" fill="#bd14ea"/>
<rect x="97.45" y="688.42" width="2.4" height="2.4" fill="#bd14ea"/>
<rect x="95.45" y="698.54" width="2.4" height="2.4" fill="#bd14ea"/>
<rect x="95.45" y="703.97" width="2.4" height="2.4" fill="#bd14ea"/>
<line x1="121.05" y1="701.55" x2="121.05" y2="709.7" stroke="#1ca3bd" stroke-width="1.2"/>
<line x1="117.05" y1="701.55" x2="125.05" y2="701.55" stroke="#1ca3bd" stroke-width="1.2"/>
<line x1="117.05" y1="709.7" x2="125.05" y2="709.7" stroke="#1ca3bd" stroke-width="1.2"/>
<path d="M121.05 693.42L122.37 695.79L119.73 695.79Z" fill="#1ca3bd"/>
<path d="M118.05 701.12L119.37 703.49L116.73 703.49Z" fill="#1ca3bd"/>
<path d="M124.05 701.12L125.37 703.49L122.73 703.49Z" fill="#1ca3bd"/>
<path d="M121.05 702.63L122.37 705L119.73 705Z" fill="#1ca3bd"/>
<path d="M121.05 712.59L122.37 714.97L119.73 714.97Z" fill="#1ca3bd"/>
<path d="M121.05 716.07L122.37 718.44L119.73 718.44Z" fill="#1ca3bd"/>
<line x1="72.3" y1="640.1" x2="120.9" y2="640.1" stroke="#000" stroke-width="1.2"/>
<text x="96.7" y="640.32" font-size="11" text-anchor="middle">**</text>
<line x1="72.3" y1="657.7" x2="95.9" y2="657.7" stroke="#000" stroke-width="1.2"/>
<text x="82.8" y="658.22" font-size="11" text-anchor="middle">****</text>
<line x1="97.7" y1="657.7" x2="121.6" y2="657.7" stroke="#000" stroke-width="1.2"/>
<text x="110.4" y="658.22" font-size="11" text-anchor="middle">*</text>
<text x="37.9" y="706.4" font-size="11" text-anchor="middle" transform="rotate(-90 37.9 706.4)">Area under curve</text>
<rect x="38.9" y="580.2" width="10.2" height="4.2" stroke="#bd14ea" stroke-width="1.2" fill="#fff"/>
<text x="55.2" y="586.8" font-size="11">CCI + JH-ENT-01</text>
<rect x="38.9" y="594.7" width="10.2" height="4.2" stroke="#1ca3bd" stroke-width="1.2" fill="#fff"/>
<text x="55.2" y="601.3" font-size="11">CCI + Gabapentin</text>
<rect x="38.9" y="609.2" width="10.2" height="4.2" stroke="#8c8c8c" stroke-width="1.2" fill="#fff"/>
<text x="55.2" y="615.8" font-size="11">CCI + vehicle</text>
<path d="M219.5 768.3V675.93H234.4V768.3" stroke="#8c8c8c" stroke-width="1.3" fill="#fff" stroke-linejoin="miter"/>
<path d="M243.4 768.3V710.98H258.3V768.3" stroke="#bd14ea" stroke-width="1.3" fill="#fff" stroke-linejoin="miter"/>
<path d="M267.35 768.3V698.06H282.25V768.3" stroke="#1ca3bd" stroke-width="1.3" fill="#fff" stroke-linejoin="miter"/>
<line x1="226.95" y1="671.92" x2="226.95" y2="679.94" stroke="#8c8c8c" stroke-width="1.2"/>
<line x1="222.95" y1="671.92" x2="230.95" y2="671.92" stroke="#8c8c8c" stroke-width="1.2"/>
<line x1="222.95" y1="679.94" x2="230.95" y2="679.94" stroke="#8c8c8c" stroke-width="1.2"/>
<circle cx="226.95" cy="664.65" r="1.2" fill="#8c8c8c"/>
<circle cx="226.95" cy="668.8" r="1.2" fill="#8c8c8c"/>
<circle cx="224.25" cy="679.65" r="1.2" fill="#8c8c8c"/>
<circle cx="229.65" cy="679.65" r="1.2" fill="#8c8c8c"/>
<circle cx="226.95" cy="689.15" r="1.2" fill="#8c8c8c"/>
<line x1="250.85" y1="709.49" x2="250.85" y2="712.46" stroke="#bd14ea" stroke-width="1.2"/>
<line x1="246.85" y1="709.49" x2="254.85" y2="709.49" stroke="#bd14ea" stroke-width="1.2"/>
<line x1="246.85" y1="712.46" x2="254.85" y2="712.46" stroke="#bd14ea" stroke-width="1.2"/>
<rect x="246.65" y="705.77" width="2.4" height="2.4" fill="#bd14ea"/>
<rect x="251.15" y="705.77" width="2.4" height="2.4" fill="#bd14ea"/>
<rect x="248.15" y="706.96" width="2.4" height="2.4" fill="#bd14ea"/>
<rect x="251.15" y="707.7" width="2.4" height="2.4" fill="#bd14ea"/>
<rect x="254.15" y="706.96" width="2.4" height="2.4" fill="#bd14ea"/>
<rect x="246.65" y="709.18" width="2.4" height="2.4" fill="#bd14ea"/>
<rect x="249.65" y="710.67" width="2.4" height="2.4" fill="#bd14ea"/>
<rect x="247.15" y="713.94" width="2.4" height="2.4" fill="#bd14ea"/>
<line x1="274.8" y1="696.87" x2="274.8" y2="699.25" stroke="#1ca3bd" stroke-width="1.2"/>
<line x1="270.8" y1="696.87" x2="278.8" y2="696.87" stroke="#1ca3bd" stroke-width="1.2"/>
<line x1="270.8" y1="699.25" x2="278.8" y2="699.25" stroke="#1ca3bd" stroke-width="1.2"/>
<path d="M274.8 690.78L276.12 693.16L273.48 693.16Z" fill="#1ca3bd"/>
<path d="M274.8 694.79L276.12 697.17L273.48 697.17Z" fill="#1ca3bd"/>
<path d="M272.3 697.32L273.62 699.69L270.98 699.69Z" fill="#1ca3bd"/>
<path d="M277.3 697.32L278.62 699.69L275.98 699.69Z" fill="#1ca3bd"/>
<path d="M270.8 698.95L272.12 701.33L269.48 701.33Z" fill="#1ca3bd"/>
<path d="M277.8 698.95L279.12 701.33L276.48 701.33Z" fill="#1ca3bd"/>
<line x1="226.7" y1="640.1" x2="274.5" y2="640.1" stroke="#000" stroke-width="1.2"/>
<text x="252.7" y="640.62" font-size="11" text-anchor="middle">****</text>
<line x1="226.7" y1="656.4" x2="250.1" y2="656.4" stroke="#000" stroke-width="1.2"/>
<text x="239.6" y="656.72" font-size="11" text-anchor="middle">****</text>
<line x1="252.7" y1="656.4" x2="276.4" y2="656.4" stroke="#000" stroke-width="1.2"/>
<text x="266.7" y="656.72" font-size="11" text-anchor="middle">**</text>
<text x="182.1" y="703.7" font-size="11" text-anchor="middle" transform="rotate(-90 182.1 703.7)">Area under curve</text>
<rect x="189.2" y="580.2" width="10.2" height="4.2" stroke="#bd14ea" stroke-width="1.2" fill="#fff"/>
<text x="204.9" y="586.8" font-size="11">CCI + JH-ENT-01</text>
<rect x="189.2" y="594.7" width="10.2" height="4.2" stroke="#1ca3bd" stroke-width="1.2" fill="#fff"/>
<text x="204.9" y="601.3" font-size="11">CCI + Gabapentin</text>
<rect x="189.2" y="609.2" width="10.2" height="4.2" stroke="#8c8c8c" stroke-width="1.2" fill="#fff"/>
<text x="204.9" y="615.8" font-size="11">CCI + vehicle</text>
<path d="M371.8 729.4V711.52H377.9V729.4" stroke="#1a1aff" stroke-width="1.2" fill="#fff" stroke-linejoin="miter"/>
<path d="M381.8 729.4V720.46H387.9V729.4" stroke="#c028e6" stroke-width="1.2" fill="#fff" stroke-linejoin="miter"/>
<path d="M397.9 729.4V637.62H404V729.4" stroke="#1a1aff" stroke-width="1.2" fill="#fff" stroke-linejoin="miter"/>
<path d="M407.9 729.4V628.08H414V729.4" stroke="#c028e6" stroke-width="1.2" fill="#fff" stroke-linejoin="miter"/>
<path d="M425 729.4V642.38H431.1V729.4" stroke="#1a1aff" stroke-width="1.2" fill="#fff" stroke-linejoin="miter"/>
<path d="M435 729.4V666.22H441.1V729.4" stroke="#c028e6" stroke-width="1.2" fill="#fff" stroke-linejoin="miter"/>
<path d="M451.4 729.4V642.38H457.5V729.4" stroke="#1a1aff" stroke-width="1.2" fill="#fff" stroke-linejoin="miter"/>
<path d="M461.4 729.4V648.34H467.5V729.4" stroke="#c028e6" stroke-width="1.2" fill="#fff" stroke-linejoin="miter"/>
<path d="M478.3 729.4V642.38H484.4V729.4" stroke="#1a1aff" stroke-width="1.2" fill="#fff" stroke-linejoin="miter"/>
<path d="M488.3 729.4V657.88H494.4V729.4" stroke="#c028e6" stroke-width="1.2" fill="#fff" stroke-linejoin="miter"/>
<path d="M505.2 729.4V648.94H511.3V729.4" stroke="#1a1aff" stroke-width="1.2" fill="#fff" stroke-linejoin="miter"/>
<path d="M515.2 729.4V685.3H521.3V729.4" stroke="#c028e6" stroke-width="1.2" fill="#fff" stroke-linejoin="miter"/>
<path d="M531.8 729.4V637.62H537.9V729.4" stroke="#1a1aff" stroke-width="1.2" fill="#fff" stroke-linejoin="miter"/>
<path d="M541.8 729.4V679.34H547.9V729.4" stroke="#c028e6" stroke-width="1.2" fill="#fff" stroke-linejoin="miter"/>
<path d="M558.1 729.4V631.66H564.2V729.4" stroke="#1a1aff" stroke-width="1.2" fill="#fff" stroke-linejoin="miter"/>
<path d="M568.1 729.4V673.38H574.2V729.4" stroke="#c028e6" stroke-width="1.2" fill="#fff" stroke-linejoin="miter"/>
<path d="M584.5 729.4V648.94H590.6V729.4" stroke="#1a1aff" stroke-width="1.2" fill="#fff" stroke-linejoin="miter"/>
<path d="M594.5 729.4V714.26H600.6V729.4" stroke="#c028e6" stroke-width="1.2" fill="#fff" stroke-linejoin="miter"/>
<path d="M610.8 729.4V642.98H616.9V729.4" stroke="#1a1aff" stroke-width="1.2" fill="#fff" stroke-linejoin="miter"/>
<path d="M620.8 729.4V709.14H626.9V729.4" stroke="#c028e6" stroke-width="1.2" fill="#fff" stroke-linejoin="miter"/>
<path d="M637.7 729.4V637.62H643.8V729.4" stroke="#1a1aff" stroke-width="1.2" fill="#fff" stroke-linejoin="miter"/>
<path d="M647.7 729.4V687.68H653.8V729.4" stroke="#c028e6" stroke-width="1.2" fill="#fff" stroke-linejoin="miter"/>
<path d="M664.1 729.4V631.66H670.2V729.4" stroke="#1a1aff" stroke-width="1.2" fill="#fff" stroke-linejoin="miter"/>
<path d="M674.1 729.4V631.66H680.2V729.4" stroke="#c028e6" stroke-width="1.2" fill="#fff" stroke-linejoin="miter"/>
<line x1="374.85" y1="707.94" x2="374.85" y2="715.1" stroke="#1a1aff" stroke-width="1.2"/>
<line x1="372.65" y1="707.94" x2="377.05" y2="707.94" stroke="#1a1aff" stroke-width="1.2"/>
<line x1="372.65" y1="715.1" x2="377.05" y2="715.1" stroke="#1a1aff" stroke-width="1.2"/>
<line x1="384.85" y1="716.88" x2="384.85" y2="724.04" stroke="#c028e6" stroke-width="1.2"/>
<line x1="382.65" y1="716.88" x2="387.05" y2="716.88" stroke="#c028e6" stroke-width="1.2"/>
<line x1="382.65" y1="724.04" x2="387.05" y2="724.04" stroke="#c028e6" stroke-width="1.2"/>
<line x1="400.95" y1="629.27" x2="400.95" y2="645.96" stroke="#1a1aff" stroke-width="1.2"/>
<line x1="398.75" y1="629.27" x2="403.15" y2="629.27" stroke="#1a1aff" stroke-width="1.2"/>
<line x1="398.75" y1="645.96" x2="403.15" y2="645.96" stroke="#1a1aff" stroke-width="1.2"/>
<line x1="410.95" y1="624.5" x2="410.95" y2="631.66" stroke="#c028e6" stroke-width="1.2"/>
<line x1="408.75" y1="624.5" x2="413.15" y2="624.5" stroke="#c028e6" stroke-width="1.2"/>
<line x1="408.75" y1="631.66" x2="413.15" y2="631.66" stroke="#c028e6" stroke-width="1.2"/>
<line x1="428.05" y1="630.46" x2="428.05" y2="654.3" stroke="#1a1aff" stroke-width="1.2"/>
<line x1="425.85" y1="630.46" x2="430.25" y2="630.46" stroke="#1a1aff" stroke-width="1.2"/>
<line x1="425.85" y1="654.3" x2="430.25" y2="654.3" stroke="#1a1aff" stroke-width="1.2"/>
<line x1="438.05" y1="653.11" x2="438.05" y2="679.34" stroke="#c028e6" stroke-width="1.2"/>
<line x1="435.85" y1="653.11" x2="440.25" y2="653.11" stroke="#c028e6" stroke-width="1.2"/>
<line x1="435.85" y1="679.34" x2="440.25" y2="679.34" stroke="#c028e6" stroke-width="1.2"/>
<line x1="454.45" y1="636.42" x2="454.45" y2="648.34" stroke="#1a1aff" stroke-width="1.2"/>
<line x1="452.25" y1="636.42" x2="456.65" y2="636.42" stroke="#1a1aff" stroke-width="1.2"/>
<line x1="452.25" y1="648.34" x2="456.65" y2="648.34" stroke="#1a1aff" stroke-width="1.2"/>
<line x1="464.45" y1="636.42" x2="464.45" y2="660.26" stroke="#c028e6" stroke-width="1.2"/>
<line x1="462.25" y1="636.42" x2="466.65" y2="636.42" stroke="#c028e6" stroke-width="1.2"/>
<line x1="462.25" y1="660.26" x2="466.65" y2="660.26" stroke="#c028e6" stroke-width="1.2"/>
<line x1="481.35" y1="630.46" x2="481.35" y2="654.3" stroke="#1a1aff" stroke-width="1.2"/>
<line x1="479.15" y1="630.46" x2="483.55" y2="630.46" stroke="#1a1aff" stroke-width="1.2"/>
<line x1="479.15" y1="654.3" x2="483.55" y2="654.3" stroke="#1a1aff" stroke-width="1.2"/>
<line x1="491.35" y1="648.34" x2="491.35" y2="667.42" stroke="#c028e6" stroke-width="1.2"/>
<line x1="489.15" y1="648.34" x2="493.55" y2="648.34" stroke="#c028e6" stroke-width="1.2"/>
<line x1="489.15" y1="667.42" x2="493.55" y2="667.42" stroke="#c028e6" stroke-width="1.2"/>
<line x1="508.25" y1="637.02" x2="508.25" y2="660.86" stroke="#1a1aff" stroke-width="1.2"/>
<line x1="506.05" y1="637.02" x2="510.45" y2="637.02" stroke="#1a1aff" stroke-width="1.2"/>
<line x1="506.05" y1="660.86" x2="510.45" y2="660.86" stroke="#1a1aff" stroke-width="1.2"/>
<line x1="518.25" y1="668.01" x2="518.25" y2="702.58" stroke="#c028e6" stroke-width="1.2"/>
<line x1="516.05" y1="668.01" x2="520.45" y2="668.01" stroke="#c028e6" stroke-width="1.2"/>
<line x1="516.05" y1="702.58" x2="520.45" y2="702.58" stroke="#c028e6" stroke-width="1.2"/>
<line x1="534.85" y1="631.66" x2="534.85" y2="643.58" stroke="#1a1aff" stroke-width="1.2"/>
<line x1="532.65" y1="631.66" x2="537.05" y2="631.66" stroke="#1a1aff" stroke-width="1.2"/>
<line x1="532.65" y1="643.58" x2="537.05" y2="643.58" stroke="#1a1aff" stroke-width="1.2"/>
<line x1="544.85" y1="659.07" x2="544.85" y2="699.6" stroke="#c028e6" stroke-width="1.2"/>
<line x1="542.65" y1="659.07" x2="547.05" y2="659.07" stroke="#c028e6" stroke-width="1.2"/>
<line x1="542.65" y1="699.6" x2="547.05" y2="699.6" stroke="#c028e6" stroke-width="1.2"/>
<line x1="561.15" y1="620.93" x2="561.15" y2="642.38" stroke="#1a1aff" stroke-width="1.2"/>
<line x1="558.95" y1="620.93" x2="563.35" y2="620.93" stroke="#1a1aff" stroke-width="1.2"/>
<line x1="558.95" y1="642.38" x2="563.35" y2="642.38" stroke="#1a1aff" stroke-width="1.2"/>
<line x1="571.15" y1="657.88" x2="571.15" y2="688.87" stroke="#c028e6" stroke-width="1.2"/>
<line x1="568.95" y1="657.88" x2="573.35" y2="657.88" stroke="#c028e6" stroke-width="1.2"/>
<line x1="568.95" y1="688.87" x2="573.35" y2="688.87" stroke="#c028e6" stroke-width="1.2"/>
<line x1="587.55" y1="639.4" x2="587.55" y2="658.48" stroke="#1a1aff" stroke-width="1.2"/>
<line x1="585.35" y1="639.4" x2="589.75" y2="639.4" stroke="#1a1aff" stroke-width="1.2"/>
<line x1="585.35" y1="658.48" x2="589.75" y2="658.48" stroke="#1a1aff" stroke-width="1.2"/>
<line x1="597.55" y1="705.32" x2="597.55" y2="723.2" stroke="#c028e6" stroke-width="1.2"/>
<line x1="595.35" y1="705.32" x2="599.75" y2="705.32" stroke="#c028e6" stroke-width="1.2"/>
<line x1="595.35" y1="723.2" x2="599.75" y2="723.2" stroke="#c028e6" stroke-width="1.2"/>
<line x1="613.85" y1="637.02" x2="613.85" y2="648.94" stroke="#1a1aff" stroke-width="1.2"/>
<line x1="611.65" y1="637.02" x2="616.05" y2="637.02" stroke="#1a1aff" stroke-width="1.2"/>
<line x1="611.65" y1="648.94" x2="616.05" y2="648.94" stroke="#1a1aff" stroke-width="1.2"/>
<line x1="623.85" y1="703.18" x2="623.85" y2="715.1" stroke="#c028e6" stroke-width="1.2"/>
<line x1="621.65" y1="703.18" x2="626.05" y2="703.18" stroke="#c028e6" stroke-width="1.2"/>
<line x1="621.65" y1="715.1" x2="626.05" y2="715.1" stroke="#c028e6" stroke-width="1.2"/>
<line x1="640.75" y1="632.85" x2="640.75" y2="642.38" stroke="#1a1aff" stroke-width="1.2"/>
<line x1="638.55" y1="632.85" x2="642.95" y2="632.85" stroke="#1a1aff" stroke-width="1.2"/>
<line x1="638.55" y1="642.38" x2="642.95" y2="642.38" stroke="#1a1aff" stroke-width="1.2"/>
<line x1="650.75" y1="666.82" x2="650.75" y2="708.54" stroke="#c028e6" stroke-width="1.2"/>
<line x1="648.55" y1="666.82" x2="652.95" y2="666.82" stroke="#c028e6" stroke-width="1.2"/>
<line x1="648.55" y1="708.54" x2="652.95" y2="708.54" stroke="#c028e6" stroke-width="1.2"/>
<line x1="667.15" y1="628.08" x2="667.15" y2="635.23" stroke="#1a1aff" stroke-width="1.2"/>
<line x1="664.95" y1="628.08" x2="669.35" y2="628.08" stroke="#1a1aff" stroke-width="1.2"/>
<line x1="664.95" y1="635.23" x2="669.35" y2="635.23" stroke="#1a1aff" stroke-width="1.2"/>
<line x1="677.15" y1="622.12" x2="677.15" y2="641.19" stroke="#c028e6" stroke-width="1.2"/>
<line x1="674.95" y1="622.12" x2="679.35" y2="622.12" stroke="#c028e6" stroke-width="1.2"/>
<line x1="674.95" y1="641.19" x2="679.35" y2="641.19" stroke="#c028e6" stroke-width="1.2"/>
<circle cx="373.15" cy="705.56" r="0.85" fill="#1a1aff"/>
<circle cx="376.55" cy="705.56" r="0.85" fill="#1a1aff"/>
<circle cx="374.85" cy="717.48" r="0.85" fill="#1a1aff"/>
<circle cx="384.85" cy="717.48" r="0.85" fill="#c028e6"/>
<circle cx="384.85" cy="729.4" r="0.85" fill="#c028e6"/>
<circle cx="399.25" cy="622.12" r="0.85" fill="#1a1aff"/>
<circle cx="402.65" cy="622.12" r="0.85" fill="#1a1aff"/>
<circle cx="400.95" cy="657.88" r="0.85" fill="#1a1aff"/>
<circle cx="409.25" cy="622.12" r="0.85" fill="#c028e6"/>
<circle cx="412.65" cy="622.12" r="0.85" fill="#c028e6"/>
<circle cx="410.95" cy="634.04" r="0.85" fill="#c028e6"/>
<circle cx="428.05" cy="622.12" r="0.85" fill="#1a1aff"/>
<circle cx="426.35" cy="634.04" r="0.85" fill="#1a1aff"/>
<circle cx="429.75" cy="634.04" r="0.85" fill="#1a1aff"/>
<circle cx="428.05" cy="681.72" r="0.85" fill="#1a1aff"/>
<circle cx="438.05" cy="634.04" r="0.85" fill="#c028e6"/>
<circle cx="438.05" cy="681.72" r="0.85" fill="#c028e6"/>
<circle cx="438.05" cy="693.64" r="0.85" fill="#c028e6"/>
<circle cx="452.75" cy="634.04" r="0.85" fill="#1a1aff"/>
<circle cx="456.15" cy="634.04" r="0.85" fill="#1a1aff"/>
<circle cx="454.45" cy="657.88" r="0.85" fill="#1a1aff"/>
<circle cx="464.45" cy="622.12" r="0.85" fill="#c028e6"/>
<circle cx="462.75" cy="645.96" r="0.85" fill="#c028e6"/>
<circle cx="466.15" cy="645.96" r="0.85" fill="#c028e6"/>
<circle cx="464.45" cy="681.72" r="0.85" fill="#c028e6"/>
<circle cx="481.35" cy="610.2" r="0.85" fill="#1a1aff"/>
<circle cx="481.35" cy="681.72" r="0.85" fill="#1a1aff"/>
<circle cx="491.35" cy="634.04" r="0.85" fill="#c028e6"/>
<circle cx="489.65" cy="669.8" r="0.85" fill="#c028e6"/>
<circle cx="493.05" cy="669.8" r="0.85" fill="#c028e6"/>
<circle cx="508.25" cy="622.12" r="0.85" fill="#1a1aff"/>
<circle cx="508.25" cy="634.04" r="0.85" fill="#1a1aff"/>
<circle cx="506.55" cy="669.8" r="0.85" fill="#1a1aff"/>
<circle cx="509.95" cy="669.8" r="0.85" fill="#1a1aff"/>
<circle cx="518.25" cy="645.96" r="0.85" fill="#c028e6"/>
<circle cx="518.25" cy="705.56" r="0.85" fill="#c028e6"/>
<circle cx="518.25" cy="717.48" r="0.85" fill="#c028e6"/>
<circle cx="534.85" cy="622.12" r="0.85" fill="#1a1aff"/>
<circle cx="533.15" cy="645.96" r="0.85" fill="#1a1aff"/>
<circle cx="536.55" cy="645.96" r="0.85" fill="#1a1aff"/>
<circle cx="544.85" cy="634.04" r="0.85" fill="#c028e6"/>
<circle cx="544.85" cy="657.88" r="0.85" fill="#c028e6"/>
<circle cx="544.85" cy="705.56" r="0.85" fill="#c028e6"/>
<circle cx="544.85" cy="717.48" r="0.85" fill="#c028e6"/>
<circle cx="561.15" cy="610.2" r="0.85" fill="#1a1aff"/>
<circle cx="561.15" cy="657.88" r="0.85" fill="#1a1aff"/>
<circle cx="571.15" cy="634.04" r="0.85" fill="#c028e6"/>
<circle cx="571.15" cy="681.72" r="0.85" fill="#c028e6"/>
<circle cx="571.15" cy="717.48" r="0.85" fill="#c028e6"/>
<circle cx="585.85" cy="634.04" r="0.85" fill="#1a1aff"/>
<circle cx="589.25" cy="634.04" r="0.85" fill="#1a1aff"/>
<circle cx="587.55" cy="669.8" r="0.85" fill="#1a1aff"/>
<circle cx="597.55" cy="693.64" r="0.85" fill="#c028e6"/>
<circle cx="597.55" cy="729.4" r="0.85" fill="#c028e6"/>
<circle cx="613.85" cy="622.12" r="0.85" fill="#1a1aff"/>
<circle cx="613.85" cy="645.96" r="0.85" fill="#1a1aff"/>
<circle cx="613.85" cy="657.88" r="0.85" fill="#1a1aff"/>
<circle cx="623.85" cy="693.64" r="0.85" fill="#c028e6"/>
<circle cx="622.15" cy="717.48" r="0.85" fill="#c028e6"/>
<circle cx="625.55" cy="717.48" r="0.85" fill="#c028e6"/>
<circle cx="640.75" cy="622.12" r="0.85" fill="#1a1aff"/>
<circle cx="639.05" cy="645.96" r="0.85" fill="#1a1aff"/>
<circle cx="642.45" cy="645.96" r="0.85" fill="#1a1aff"/>
<circle cx="650.75" cy="645.96" r="0.85" fill="#c028e6"/>
<circle cx="650.75" cy="657.88" r="0.85" fill="#c028e6"/>
<circle cx="650.75" cy="717.48" r="0.85" fill="#c028e6"/>
<circle cx="650.75" cy="729.4" r="0.85" fill="#c028e6"/>
<circle cx="665.45" cy="622.12" r="0.85" fill="#1a1aff"/>
<circle cx="668.85" cy="622.12" r="0.85" fill="#1a1aff"/>
<circle cx="667.15" cy="645.96" r="0.85" fill="#1a1aff"/>
<circle cx="677.15" cy="622.12" r="0.85" fill="#c028e6"/>
<circle cx="677.15" cy="657.88" r="0.85" fill="#c028e6"/>
<text x="371.6" y="751.6" font-size="11" text-anchor="middle">BL</text>
<text x="401.6" y="745.5" font-size="11" text-anchor="middle">SNI</text>
<text x="401.6" y="756.6" font-size="11" text-anchor="middle">BL</text>
<text x="429.9" y="745.5" font-size="11" text-anchor="middle">1h</text>
<text x="456.2" y="745.5" font-size="11" text-anchor="middle">3h</text>
<text x="481.2" y="745.5" font-size="11" text-anchor="middle">pre</text>
<text x="509.4" y="745.5" font-size="11" text-anchor="middle">1h</text>
<text x="536.1" y="745.5" font-size="11" text-anchor="middle">3h</text>
<text x="561.6" y="745.5" font-size="11" text-anchor="middle">pre</text>
<text x="589.3" y="745.5" font-size="11" text-anchor="middle">1h</text>
<text x="615.7" y="745.5" font-size="11" text-anchor="middle">3h</text>
<text x="642" y="745.5" font-size="11" text-anchor="middle">5h</text>
<text x="669.2" y="745.5" font-size="11" text-anchor="middle">24h</text>
<line x1="424.9" y1="748.3" x2="461.8" y2="748.3" stroke="#000" stroke-width="1.2"/>
<line x1="500" y1="748.3" x2="541.6" y2="748.3" stroke="#000" stroke-width="1.2"/>
<line x1="583.2" y1="748.3" x2="678.1" y2="748.3" stroke="#000" stroke-width="1.2"/>
<text x="426" y="760.5" font-size="11">1<tspan font-size="7" dy="-3.5">st</tspan><tspan dy="3.5"> day</tspan></text>
<text x="506.2" y="760.5" font-size="11">2<tspan font-size="7" dy="-3.5">nd</tspan><tspan dy="3.5"> day</tspan></text>
<text x="618" y="760.5" font-size="11">3<tspan font-size="7" dy="-3.5">rd</tspan><tspan dy="3.5"> day</tspan></text>
<line x1="425.7" y1="765.5" x2="680.3" y2="765.5" stroke="#000" stroke-width="1.2"/>
<text x="497.8" y="777" font-size="11">Time after i.t. injections</text>
<path d="M586.5 610.4V604.4H597.6V610.4" stroke="#000" stroke-width="1.2" fill="none"/>
<text x="591.2" y="604.52" font-size="11" text-anchor="middle">*</text>
<path d="M613.4 610.4V604.4H623.4V610.4" stroke="#000" stroke-width="1.2" fill="none"/>
<text x="618.4" y="604.52" font-size="11" text-anchor="middle">**</text>
<text x="344.2" y="670.5" font-size="11" text-anchor="middle" transform="rotate(-90 344.2 670.5)">Paw withdrawal frequency (%)</text>
<rect x="474.2" y="579.1" width="10" height="4.7" stroke="#c028e6" stroke-width="1.2" fill="#fff"/>
<text x="490.5" y="587.7" font-size="11">SNI + JH-ENT-01</text>
<rect x="474.2" y="594.4" width="10" height="4.7" stroke="#1a1aff" stroke-width="1.2" fill="#fff"/>
<text x="490.5" y="600.8" font-size="11">SNI + vehicle</text>
<path d="M230.5 953.1V893.7H237V953.1" stroke="#1a1aff" stroke-width="1.3" fill="#fff" stroke-linejoin="miter"/>
<path d="M241.75 953.1V892.6H248.25V953.1" stroke="#c028e6" stroke-width="1.3" fill="#fff" stroke-linejoin="miter"/>
<path d="M260.6 953.1V943.2H267.1V953.1" stroke="#1a1aff" stroke-width="1.3" fill="#fff" stroke-linejoin="miter"/>
<path d="M271.85 953.1V946.5H278.35V953.1" stroke="#c028e6" stroke-width="1.3" fill="#fff" stroke-linejoin="miter"/>
<path d="M290.6 953.1V942.65H297.1V953.1" stroke="#1a1aff" stroke-width="1.3" fill="#fff" stroke-linejoin="miter"/>
<path d="M301.85 953.1V911.3H308.35V953.1" stroke="#c028e6" stroke-width="1.3" fill="#fff" stroke-linejoin="miter"/>
<path d="M320.9 953.1V943.2H327.4V953.1" stroke="#1a1aff" stroke-width="1.3" fill="#fff" stroke-linejoin="miter"/>
<path d="M332.15 953.1V925.6H338.65V953.1" stroke="#c028e6" stroke-width="1.3" fill="#fff" stroke-linejoin="miter"/>
<path d="M350.8 953.1V943.75H357.3V953.1" stroke="#1a1aff" stroke-width="1.3" fill="#fff" stroke-linejoin="miter"/>
<path d="M362.05 953.1V941.55H368.55V953.1" stroke="#c028e6" stroke-width="1.3" fill="#fff" stroke-linejoin="miter"/>
<path d="M381.2 953.1V944.3H387.7V953.1" stroke="#1a1aff" stroke-width="1.3" fill="#fff" stroke-linejoin="miter"/>
<path d="M392.45 953.1V944.85H398.95V953.1" stroke="#c028e6" stroke-width="1.3" fill="#fff" stroke-linejoin="miter"/>
<line x1="233.75" y1="887.65" x2="233.75" y2="899.75" stroke="#1a1aff" stroke-width="1.2"/>
<line x1="231.55" y1="887.65" x2="235.95" y2="887.65" stroke="#1a1aff" stroke-width="1.2"/>
<line x1="231.55" y1="899.75" x2="235.95" y2="899.75" stroke="#1a1aff" stroke-width="1.2"/>
<line x1="245" y1="886.55" x2="245" y2="898.65" stroke="#c028e6" stroke-width="1.2"/>
<line x1="242.8" y1="886.55" x2="247.2" y2="886.55" stroke="#c028e6" stroke-width="1.2"/>
<line x1="242.8" y1="898.65" x2="247.2" y2="898.65" stroke="#c028e6" stroke-width="1.2"/>
<circle cx="233.75" cy="870.6" r="1.35" fill="#1a1aff"/>
<circle cx="233.75" cy="881.6" r="1.35" fill="#1a1aff"/>
<circle cx="233.75" cy="895.35" r="1.35" fill="#1a1aff"/>
<circle cx="233.75" cy="911.85" r="1.35" fill="#1a1aff"/>
<circle cx="245" cy="870.6" r="1.35" fill="#c028e6"/>
<circle cx="245" cy="881.6" r="1.35" fill="#c028e6"/>
<circle cx="245" cy="895.35" r="1.35" fill="#c028e6"/>
<circle cx="245" cy="911.85" r="1.35" fill="#c028e6"/>
<line x1="263.85" y1="941.55" x2="263.85" y2="944.85" stroke="#1a1aff" stroke-width="1.2"/>
<line x1="261.65" y1="941.55" x2="266.05" y2="941.55" stroke="#1a1aff" stroke-width="1.2"/>
<line x1="261.65" y1="944.85" x2="266.05" y2="944.85" stroke="#1a1aff" stroke-width="1.2"/>
<line x1="275.1" y1="944.85" x2="275.1" y2="948.15" stroke="#c028e6" stroke-width="1.2"/>
<line x1="272.9" y1="944.85" x2="277.3" y2="944.85" stroke="#c028e6" stroke-width="1.2"/>
<line x1="272.9" y1="948.15" x2="277.3" y2="948.15" stroke="#c028e6" stroke-width="1.2"/>
<circle cx="263.85" cy="939.35" r="1.35" fill="#1a1aff"/>
<circle cx="263.85" cy="942.1" r="1.35" fill="#1a1aff"/>
<circle cx="263.85" cy="944.85" r="1.35" fill="#1a1aff"/>
<circle cx="263.85" cy="947.6" r="1.35" fill="#1a1aff"/>
<circle cx="275.1" cy="940.45" r="1.35" fill="#c028e6"/>
<circle cx="275.1" cy="944.85" r="1.35" fill="#c028e6"/>
<circle cx="275.1" cy="947.6" r="1.35" fill="#c028e6"/>
<line x1="293.85" y1="941" x2="293.85" y2="944.3" stroke="#1a1aff" stroke-width="1.2"/>
<line x1="291.65" y1="941" x2="296.05" y2="941" stroke="#1a1aff" stroke-width="1.2"/>
<line x1="291.65" y1="944.3" x2="296.05" y2="944.3" stroke="#1a1aff" stroke-width="1.2"/>
<line x1="305.1" y1="907.45" x2="305.1" y2="915.15" stroke="#c028e6" stroke-width="1.2"/>
<line x1="302.9" y1="907.45" x2="307.3" y2="907.45" stroke="#c028e6" stroke-width="1.2"/>
<line x1="302.9" y1="915.15" x2="307.3" y2="915.15" stroke="#c028e6" stroke-width="1.2"/>
<circle cx="293.85" cy="938.25" r="1.35" fill="#1a1aff"/>
<circle cx="293.85" cy="942.1" r="1.35" fill="#1a1aff"/>
<circle cx="293.85" cy="944.85" r="1.35" fill="#1a1aff"/>
<circle cx="293.85" cy="947.6" r="1.35" fill="#1a1aff"/>
<circle cx="302.7" cy="899.2" r="1.35" fill="#c028e6"/>
<circle cx="307.5" cy="899.2" r="1.35" fill="#c028e6"/>
<circle cx="305.1" cy="914.6" r="1.35" fill="#c028e6"/>
<circle cx="305.1" cy="922.85" r="1.35" fill="#c028e6"/>
<circle cx="305.1" cy="931.1" r="1.35" fill="#c028e6"/>
<line x1="324.15" y1="941.55" x2="324.15" y2="944.85" stroke="#1a1aff" stroke-width="1.2"/>
<line x1="321.95" y1="941.55" x2="326.35" y2="941.55" stroke="#1a1aff" stroke-width="1.2"/>
<line x1="321.95" y1="944.85" x2="326.35" y2="944.85" stroke="#1a1aff" stroke-width="1.2"/>
<line x1="335.4" y1="920.1" x2="335.4" y2="931.1" stroke="#c028e6" stroke-width="1.2"/>
<line x1="333.2" y1="920.1" x2="337.6" y2="920.1" stroke="#c028e6" stroke-width="1.2"/>
<line x1="333.2" y1="931.1" x2="337.6" y2="931.1" stroke="#c028e6" stroke-width="1.2"/>
<circle cx="324.15" cy="941" r="1.35" fill="#1a1aff"/>
<circle cx="324.15" cy="942.1" r="1.35" fill="#1a1aff"/>
<circle cx="324.15" cy="944.85" r="1.35" fill="#1a1aff"/>
<circle cx="324.15" cy="947.6" r="1.35" fill="#1a1aff"/>
<circle cx="335.4" cy="899.2" r="1.35" fill="#c028e6"/>
<circle cx="335.4" cy="920.1" r="1.35" fill="#c028e6"/>
<circle cx="335.4" cy="928.35" r="1.35" fill="#c028e6"/>
<circle cx="335.4" cy="933.85" r="1.35" fill="#c028e6"/>
<line x1="354.05" y1="942.1" x2="354.05" y2="945.4" stroke="#1a1aff" stroke-width="1.2"/>
<line x1="351.85" y1="942.1" x2="356.25" y2="942.1" stroke="#1a1aff" stroke-width="1.2"/>
<line x1="351.85" y1="945.4" x2="356.25" y2="945.4" stroke="#1a1aff" stroke-width="1.2"/>
<line x1="365.3" y1="939.35" x2="365.3" y2="943.75" stroke="#c028e6" stroke-width="1.2"/>
<line x1="363.1" y1="939.35" x2="367.5" y2="939.35" stroke="#c028e6" stroke-width="1.2"/>
<line x1="363.1" y1="943.75" x2="367.5" y2="943.75" stroke="#c028e6" stroke-width="1.2"/>
<circle cx="354.05" cy="939.35" r="1.35" fill="#1a1aff"/>
<circle cx="354.05" cy="943.2" r="1.35" fill="#1a1aff"/>
<circle cx="354.05" cy="944.85" r="1.35" fill="#1a1aff"/>
<circle cx="354.05" cy="947.6" r="1.35" fill="#1a1aff"/>
<circle cx="365.3" cy="933.85" r="1.35" fill="#c028e6"/>
<circle cx="365.3" cy="939.35" r="1.35" fill="#c028e6"/>
<circle cx="365.3" cy="942.1" r="1.35" fill="#c028e6"/>
<circle cx="365.3" cy="946.5" r="1.35" fill="#c028e6"/>
<line x1="384.45" y1="942.65" x2="384.45" y2="945.95" stroke="#1a1aff" stroke-width="1.2"/>
<line x1="382.25" y1="942.65" x2="386.65" y2="942.65" stroke="#1a1aff" stroke-width="1.2"/>
<line x1="382.25" y1="945.95" x2="386.65" y2="945.95" stroke="#1a1aff" stroke-width="1.2"/>
<line x1="395.7" y1="943.2" x2="395.7" y2="946.5" stroke="#c028e6" stroke-width="1.2"/>
<line x1="393.5" y1="943.2" x2="397.9" y2="943.2" stroke="#c028e6" stroke-width="1.2"/>
<line x1="393.5" y1="946.5" x2="397.9" y2="946.5" stroke="#c028e6" stroke-width="1.2"/>
<circle cx="384.45" cy="942.1" r="1.35" fill="#1a1aff"/>
<circle cx="384.45" cy="943.2" r="1.35" fill="#1a1aff"/>
<circle cx="384.45" cy="944.85" r="1.35" fill="#1a1aff"/>
<circle cx="384.45" cy="947.6" r="1.35" fill="#1a1aff"/>
<circle cx="395.7" cy="941" r="1.35" fill="#c028e6"/>
<circle cx="395.7" cy="944.85" r="1.35" fill="#c028e6"/>
<circle cx="395.7" cy="947.6" r="1.35" fill="#c028e6"/>
<text x="237.4" y="969.7" font-size="11" text-anchor="middle">BL</text>
<text x="268.7" y="969.7" font-size="11" text-anchor="middle">SNI</text>
<text x="298" y="969.7" font-size="11" text-anchor="middle">1</text>
<text x="327.5" y="969.7" font-size="11" text-anchor="middle">3</text>
<text x="357.6" y="969.7" font-size="11" text-anchor="middle">5</text>
<text x="388.7" y="969.7" font-size="11" text-anchor="middle">24</text>
<line x1="297.6" y1="973.3" x2="395" y2="973.3" stroke="#000" stroke-width="1.2"/>
<text x="284.5" y="986" font-size="11">Hours after drug injection</text>
<line x1="291.8" y1="887.6" x2="308.4" y2="887.6" stroke="#000" stroke-width="1.2"/>
<text x="298.7" y="887.22" font-size="11" text-anchor="middle">****</text>
<line x1="322" y1="887.6" x2="338.6" y2="887.6" stroke="#000" stroke-width="1.2"/>
<text x="329.2" y="887.22" font-size="11" text-anchor="middle">**</text>
<text x="190.9" y="894.7" font-size="11" text-anchor="middle" transform="rotate(-90 190.9 894.7)">Paw withdrawal threshold (g)</text>
<rect x="268.2" y="821.9" width="13" height="5" stroke="#c028e6" stroke-width="1.2" fill="#fff"/>
<text x="287.6" y="828.3" font-size="11">SNI + JH-ENT-01</text>
<rect x="268.2" y="835.8" width="13" height="5" stroke="#1a1aff" stroke-width="1.2" fill="#fff"/>
<text x="287.6" y="842.5" font-size="11">SNI + vehicle</text>
<path d="M474.95 952.3V946.7H481.85V952.3" stroke="#1a1aff" stroke-width="1.3" fill="#fff" stroke-linejoin="miter"/>
<path d="M487.85 952.3V948.15H494.75V952.3" stroke="#c028e6" stroke-width="1.3" fill="#fff" stroke-linejoin="miter"/>
<path d="M508.95 952.3V890.05H515.85V952.3" stroke="#1a1aff" stroke-width="1.3" fill="#fff" stroke-linejoin="miter"/>
<path d="M521.85 952.3V889.63H528.75V952.3" stroke="#c028e6" stroke-width="1.3" fill="#fff" stroke-linejoin="miter"/>
<path d="M543.05 952.3V890.05H549.95V952.3" stroke="#1a1aff" stroke-width="1.3" fill="#fff" stroke-linejoin="miter"/>
<path d="M555.95 952.3V929.47H562.85V952.3" stroke="#c028e6" stroke-width="1.3" fill="#fff" stroke-linejoin="miter"/>
<path d="M577.05 952.3V890.05H583.95V952.3" stroke="#1a1aff" stroke-width="1.3" fill="#fff" stroke-linejoin="miter"/>
<path d="M589.95 952.3V917.02H596.85V952.3" stroke="#c028e6" stroke-width="1.3" fill="#fff" stroke-linejoin="miter"/>
<path d="M610.95 952.3V890.05H617.85V952.3" stroke="#1a1aff" stroke-width="1.3" fill="#fff" stroke-linejoin="miter"/>
<path d="M623.85 952.3V898.35H630.75V952.3" stroke="#c028e6" stroke-width="1.3" fill="#fff" stroke-linejoin="miter"/>
<path d="M645.35 952.3V890.05H652.25V952.3" stroke="#1a1aff" stroke-width="1.3" fill="#fff" stroke-linejoin="miter"/>
<path d="M658.25 952.3V891.09H665.15V952.3" stroke="#c028e6" stroke-width="1.3" fill="#fff" stroke-linejoin="miter"/>
<line x1="478.4" y1="945.66" x2="478.4" y2="947.73" stroke="#1a1aff" stroke-width="1.2"/>
<line x1="475.8" y1="945.66" x2="481" y2="945.66" stroke="#1a1aff" stroke-width="1.2"/>
<line x1="475.8" y1="947.73" x2="481" y2="947.73" stroke="#1a1aff" stroke-width="1.2"/>
<line x1="491.3" y1="947.11" x2="491.3" y2="949.19" stroke="#c028e6" stroke-width="1.2"/>
<line x1="488.7" y1="947.11" x2="493.9" y2="947.11" stroke="#c028e6" stroke-width="1.2"/>
<line x1="488.7" y1="949.19" x2="493.9" y2="949.19" stroke="#c028e6" stroke-width="1.2"/>
<circle cx="478.4" cy="945.04" r="1.35" fill="#1a1aff"/>
<circle cx="476" cy="946.07" r="1.35" fill="#1a1aff"/>
<circle cx="480.8" cy="946.07" r="1.35" fill="#1a1aff"/>
<circle cx="478.4" cy="947.11" r="1.35" fill="#1a1aff"/>
<circle cx="478.4" cy="948.15" r="1.35" fill="#1a1aff"/>
<circle cx="491.3" cy="947.11" r="1.35" fill="#c028e6"/>
<circle cx="488.9" cy="948.15" r="1.35" fill="#c028e6"/>
<circle cx="493.7" cy="948.15" r="1.35" fill="#c028e6"/>
<circle cx="491.3" cy="949.19" r="1.35" fill="#c028e6"/>
<line x1="512.4" y1="879.67" x2="512.4" y2="900.42" stroke="#1a1aff" stroke-width="1.2"/>
<line x1="509.8" y1="879.67" x2="515" y2="879.67" stroke="#1a1aff" stroke-width="1.2"/>
<line x1="509.8" y1="900.42" x2="515" y2="900.42" stroke="#1a1aff" stroke-width="1.2"/>
<line x1="525.3" y1="882.37" x2="525.3" y2="896.9" stroke="#c028e6" stroke-width="1.2"/>
<line x1="522.7" y1="882.37" x2="527.9" y2="882.37" stroke="#c028e6" stroke-width="1.2"/>
<line x1="522.7" y1="896.9" x2="527.9" y2="896.9" stroke="#c028e6" stroke-width="1.2"/>
<circle cx="512.4" cy="858.09" r="1.35" fill="#1a1aff"/>
<circle cx="512.4" cy="867.64" r="1.35" fill="#1a1aff"/>
<circle cx="512.4" cy="872.62" r="1.35" fill="#1a1aff"/>
<circle cx="510" cy="909.76" r="1.35" fill="#1a1aff"/>
<circle cx="514.8" cy="909.76" r="1.35" fill="#1a1aff"/>
<circle cx="512.4" cy="919.1" r="1.35" fill="#1a1aff"/>
<circle cx="525.3" cy="862.66" r="1.35" fill="#c028e6"/>
<circle cx="525.3" cy="878.22" r="1.35" fill="#c028e6"/>
<circle cx="525.3" cy="881.75" r="1.35" fill="#c028e6"/>
<circle cx="525.3" cy="895.86" r="1.35" fill="#c028e6"/>
<circle cx="525.3" cy="901.05" r="1.35" fill="#c028e6"/>
<circle cx="525.3" cy="912.04" r="1.35" fill="#c028e6"/>
<line x1="546.5" y1="879.67" x2="546.5" y2="900.42" stroke="#1a1aff" stroke-width="1.2"/>
<line x1="543.9" y1="879.67" x2="549.1" y2="879.67" stroke="#1a1aff" stroke-width="1.2"/>
<line x1="543.9" y1="900.42" x2="549.1" y2="900.42" stroke="#1a1aff" stroke-width="1.2"/>
<line x1="559.4" y1="924.29" x2="559.4" y2="934.66" stroke="#c028e6" stroke-width="1.2"/>
<line x1="556.8" y1="924.29" x2="562" y2="924.29" stroke="#c028e6" stroke-width="1.2"/>
<line x1="556.8" y1="934.66" x2="562" y2="934.66" stroke="#c028e6" stroke-width="1.2"/>
<circle cx="546.5" cy="862.04" r="1.35" fill="#1a1aff"/>
<circle cx="546.5" cy="865.15" r="1.35" fill="#1a1aff"/>
<circle cx="546.5" cy="870.13" r="1.35" fill="#1a1aff"/>
<circle cx="546.5" cy="910.59" r="1.35" fill="#1a1aff"/>
<circle cx="546.5" cy="914.12" r="1.35" fill="#1a1aff"/>
<circle cx="546.5" cy="917.44" r="1.35" fill="#1a1aff"/>
<circle cx="559.4" cy="910.18" r="1.35" fill="#c028e6"/>
<circle cx="557" cy="929.47" r="1.35" fill="#c028e6"/>
<circle cx="561.8" cy="929.47" r="1.35" fill="#c028e6"/>
<circle cx="559.4" cy="947.94" r="1.35" fill="#c028e6"/>
<line x1="580.5" y1="879.67" x2="580.5" y2="900.42" stroke="#1a1aff" stroke-width="1.2"/>
<line x1="577.9" y1="879.67" x2="583.1" y2="879.67" stroke="#1a1aff" stroke-width="1.2"/>
<line x1="577.9" y1="900.42" x2="583.1" y2="900.42" stroke="#1a1aff" stroke-width="1.2"/>
<line x1="593.4" y1="911.84" x2="593.4" y2="922.21" stroke="#c028e6" stroke-width="1.2"/>
<line x1="590.8" y1="911.84" x2="596" y2="911.84" stroke="#c028e6" stroke-width="1.2"/>
<line x1="590.8" y1="922.21" x2="596" y2="922.21" stroke="#c028e6" stroke-width="1.2"/>
<circle cx="580.5" cy="861" r="1.35" fill="#1a1aff"/>
<circle cx="580.5" cy="867.85" r="1.35" fill="#1a1aff"/>
<circle cx="580.5" cy="870.13" r="1.35" fill="#1a1aff"/>
<circle cx="580.5" cy="907.48" r="1.35" fill="#1a1aff"/>
<circle cx="578.1" cy="914.33" r="1.35" fill="#1a1aff"/>
<circle cx="582.9" cy="914.33" r="1.35" fill="#1a1aff"/>
<circle cx="593.4" cy="902.91" r="1.35" fill="#c028e6"/>
<circle cx="593.4" cy="910.8" r="1.35" fill="#c028e6"/>
<circle cx="591" cy="914.33" r="1.35" fill="#c028e6"/>
<circle cx="595.8" cy="914.33" r="1.35" fill="#c028e6"/>
<circle cx="593.4" cy="942.13" r="1.35" fill="#c028e6"/>
<line x1="614.4" y1="881.75" x2="614.4" y2="898.35" stroke="#1a1aff" stroke-width="1.2"/>
<line x1="611.8" y1="881.75" x2="617" y2="881.75" stroke="#1a1aff" stroke-width="1.2"/>
<line x1="611.8" y1="898.35" x2="617" y2="898.35" stroke="#1a1aff" stroke-width="1.2"/>
<line x1="627.3" y1="890.05" x2="627.3" y2="906.65" stroke="#c028e6" stroke-width="1.2"/>
<line x1="624.7" y1="890.05" x2="629.9" y2="890.05" stroke="#c028e6" stroke-width="1.2"/>
<line x1="624.7" y1="906.65" x2="629.9" y2="906.65" stroke="#c028e6" stroke-width="1.2"/>
<circle cx="614.4" cy="866.39" r="1.35" fill="#1a1aff"/>
<circle cx="614.4" cy="870.13" r="1.35" fill="#1a1aff"/>
<circle cx="614.4" cy="874.28" r="1.35" fill="#1a1aff"/>
<circle cx="612" cy="910.38" r="1.35" fill="#1a1aff"/>
<circle cx="616.8" cy="910.38" r="1.35" fill="#1a1aff"/>
<circle cx="627.3" cy="869.09" r="1.35" fill="#c028e6"/>
<circle cx="627.3" cy="889.43" r="1.35" fill="#c028e6"/>
<circle cx="627.3" cy="904.57" r="1.35" fill="#c028e6"/>
<circle cx="627.3" cy="910.8" r="1.35" fill="#c028e6"/>
<circle cx="627.3" cy="922.21" r="1.35" fill="#c028e6"/>
<line x1="648.8" y1="880.71" x2="648.8" y2="899.39" stroke="#1a1aff" stroke-width="1.2"/>
<line x1="646.2" y1="880.71" x2="651.4" y2="880.71" stroke="#1a1aff" stroke-width="1.2"/>
<line x1="646.2" y1="899.39" x2="651.4" y2="899.39" stroke="#1a1aff" stroke-width="1.2"/>
<line x1="661.7" y1="884.86" x2="661.7" y2="897.31" stroke="#c028e6" stroke-width="1.2"/>
<line x1="659.1" y1="884.86" x2="664.3" y2="884.86" stroke="#c028e6" stroke-width="1.2"/>
<line x1="659.1" y1="897.31" x2="664.3" y2="897.31" stroke="#c028e6" stroke-width="1.2"/>
<circle cx="648.8" cy="861" r="1.35" fill="#1a1aff"/>
<circle cx="648.8" cy="863.49" r="1.35" fill="#1a1aff"/>
<circle cx="648.8" cy="879.26" r="1.35" fill="#1a1aff"/>
<circle cx="646.4" cy="913.08" r="1.35" fill="#1a1aff"/>
<circle cx="651.2" cy="913.08" r="1.35" fill="#1a1aff"/>
<circle cx="661.7" cy="860.58" r="1.35" fill="#c028e6"/>
<circle cx="661.7" cy="881.54" r="1.35" fill="#c028e6"/>
<circle cx="661.7" cy="884.24" r="1.35" fill="#c028e6"/>
<circle cx="661.7" cy="908.72" r="1.35" fill="#c028e6"/>
<circle cx="661.7" cy="914.33" r="1.35" fill="#c028e6"/>
<text x="484.3" y="968.9" font-size="11" text-anchor="middle">BL</text>
<text x="519" y="968.9" font-size="11" text-anchor="middle">SNI</text>
<text x="552.7" y="968.9" font-size="11" text-anchor="middle">1</text>
<text x="586.7" y="968.9" font-size="11" text-anchor="middle">3</text>
<text x="620.5" y="968.9" font-size="11" text-anchor="middle">5</text>
<text x="654.9" y="968.9" font-size="11" text-anchor="middle">24</text>
<line x1="552.2" y1="972.6" x2="661.3" y2="972.6" stroke="#000" stroke-width="1.2"/>
<text x="545.4" y="985.6" font-size="11">Hours after drug injection</text>
<line x1="545.9" y1="856" x2="559.8" y2="856" stroke="#000" stroke-width="1.2"/>
<text x="551.5" y="855.52" font-size="11" text-anchor="middle">**</text>
<text x="439.5" y="901.7" font-size="11" text-anchor="middle" transform="rotate(-90 439.5 901.7)">Duration of cold pain (s)</text>
<rect x="521.8" y="821.9" width="13" height="5" stroke="#c028e6" stroke-width="1.2" fill="#fff"/>
<text x="541.8" y="828.3" font-size="11">SNI + JH-ENT-01</text>
<rect x="521.8" y="835.8" width="13" height="5" stroke="#1a1aff" stroke-width="1.2" fill="#fff"/>
<text x="541.8" y="842.5" font-size="11">SNI + vehicle</text>
<g>
<defs><linearGradient id="mb" x1="0" y1="0" x2="0" y2="1"><stop offset="0" stop-color="#efefef"/><stop offset="0.55" stop-color="#e9e9e9"/><stop offset="1" stop-color="#dedede"/></linearGradient><linearGradient id="cone" x1="0" y1="0" x2="1" y2="0"><stop offset="0" stop-color="#cfd6e2"/><stop offset="1" stop-color="#687c9e"/></linearGradient></defs>
<path d="M120.5 892 C121.58 892.42 124.92 893.5 127 894.5 C129.08 895.5 131.08 896.5 133 898 C134.92 899.5 137.6 901.58 138.5 903.5 C139.4 905.42 139.32 907.95 138.4 909.5 C137.48 911.05 135.07 912.12 133 912.8 C130.93 913.48 128.83 913.57 126 913.6 C123.17 913.63 119.38 913.35 116 913 C112.62 912.65 109.2 911.95 105.7 911.5 C102.2 911.05 98.42 910.62 95 910.3 C91.58 909.98 88.2 909.57 85.2 909.6 C82.2 909.63 78.37 910.35 77 910.5" stroke="#c4c4c4" stroke-width="2.6" fill="none" stroke-linecap="round"/>
<path d="M120.5 892 C121.58 892.42 124.92 893.5 127 894.5 C129.08 895.5 131.08 896.5 133 898 C134.92 899.5 137.6 901.58 138.5 903.5 C139.4 905.42 139.32 907.95 138.4 909.5 C137.48 911.05 135.07 912.12 133 912.8 C130.93 913.48 128.83 913.57 126 913.6 C123.17 913.63 119.38 913.35 116 913 C112.62 912.65 109.2 911.95 105.7 911.5 C102.2 911.05 98.42 910.62 95 910.3 C91.58 909.98 88.2 909.57 85.2 909.6 C82.2 909.63 78.37 910.35 77 910.5" stroke="#d6d6d6" stroke-width="0.9" fill="none" stroke-linecap="round"/>
<path d="M90.5 900 C91.17 899.35 93.75 900.35 96 900.6 C98.25 900.85 101.33 901.38 104 901.5 C106.67 901.62 110.42 900.97 112 901.3 C113.58 901.63 113.83 902.83 113.5 903.5 C113.17 904.17 112.25 904.97 110 905.3 C107.75 905.63 103 905.63 100 905.5 C97 905.37 93.58 905.42 92 904.5 C90.42 903.58 89.83 900.65 90.5 900Z" fill="#d9d9d9" stroke="#c8c8c8" stroke-width="0.5"/>
<path d="M60.7 896.5 C60.03 895.67 58.37 894.25 57.5 894.5 C56.63 894.75 56.17 896.95 55.5 898 C54.83 899.05 54.92 900.3 53.5 900.8 C52.08 901.3 49.08 900.9 47 901 C44.92 901.1 42.25 901.07 41 901.4 C39.75 901.73 38.9 902.47 39.5 903 C40.1 903.53 42.52 904.4 44.6 904.6 C46.68 904.8 49.8 904.45 52 904.2 C54.2 903.95 56.22 903.88 57.8 903.1 C59.38 902.32 61.02 900.6 61.5 899.5 C61.98 898.4 61.37 897.33 60.7 896.5Z" fill="#d6d6d6" stroke="#c4c4c4" stroke-width="0.5"/>
<path d="M25.6 875 C25.35 873.77 26.27 871.63 27.5 870.4 C28.73 869.17 30.92 868.42 33 867.6 C35.08 866.78 37.75 866.07 40 865.5 C42.25 864.93 43.83 864.4 46.5 864.2 C49.17 864 53.42 864 56 864.3 C58.58 864.6 59.67 865.67 62 866 C64.33 866.33 67.22 866.27 70 866.3 C72.78 866.33 75.37 865.92 78.7 866.2 C82.03 866.48 86.45 867.45 90 868 C93.55 868.55 97.38 868.88 100 869.5 C102.62 870.12 103.87 870.7 105.7 871.7 C107.53 872.7 109.3 873.97 111 875.5 C112.7 877.03 114.48 879.32 115.9 880.9 C117.32 882.48 118.52 883.48 119.5 885 C120.48 886.52 121.38 888.33 121.8 890 C122.22 891.67 122.63 893.45 122 895 C121.37 896.55 119.67 898.22 118 899.3 C116.33 900.38 114.33 901.08 112 901.5 C109.67 901.92 106.67 901.97 104 901.8 C101.33 901.63 98.67 900.97 96 900.5 C93.33 900.03 91 899.38 88 899 C85 898.62 81 898.4 78 898.2 C75 898 72.73 898.08 70 897.8 C67.27 897.52 63.63 897.03 61.6 896.5 C59.57 895.97 59.53 895.72 57.8 894.6 C56.07 893.48 53.08 891.23 51.2 889.8 C49.32 888.37 48.87 887.42 46.5 886 C44.13 884.58 39.92 882.67 37 881.3 C34.08 879.93 30.9 878.85 29 877.8 C27.1 876.75 25.85 876.23 25.6 875Z" fill="url(#mb)" stroke="#cbcbcb" stroke-width="0.7"/>
<path d="M60 890 C61.5 888.83 67.67 888.83 72 889 C76.33 889.17 81.67 890.33 86 891 C90.33 891.67 94.33 892.83 98 893 C101.67 893.17 105 892.67 108 892 C111 891.33 114 888.83 116 889 C118 889.17 119.83 891.42 120 893 C120.17 894.58 118.67 897.17 117 898.5 C115.33 899.83 112.83 900.55 110 901 C107.17 901.45 103.67 901.57 100 901.2 C96.33 900.83 92.33 899.4 88 898.8 C83.67 898.2 78.17 898.07 74 897.6 C69.83 897.13 65.33 897.27 63 896 C60.67 894.73 58.5 891.17 60 890Z" fill="#dcdcdc" opacity="0.85"/>
<path d="M110 877 C111.33 877 114.33 880.17 116 882 C117.67 883.83 119.17 885.83 120 888 C120.83 890.17 121.67 893.5 121 895 C120.33 896.5 117.5 897.83 116 897 C114.5 896.17 113.33 892.5 112 890 C110.67 887.5 108.33 884.17 108 882 C107.67 879.83 108.67 877 110 877Z" fill="#e2e2e2" opacity="0.9"/>
<ellipse cx="52" cy="861.3" rx="3.9" ry="2.4" fill="#dadada"/>
<ellipse cx="59" cy="869.8" rx="3" ry="5" fill="#dedede"/>
<ellipse cx="44.2" cy="870.3" rx="8" ry="4.5" fill="#c8928c"/>
<ellipse cx="55.3" cy="869.5" rx="3.8" ry="4" fill="#c9948e"/>
<ellipse cx="37.5" cy="872.5" rx="1.3" ry="0.9" fill="#9aa3ad"/>
<path d="M58.5 871.6 C64 871.2 70 870.6 76 870.1 C80 869.8 83 869.7 86 869.8" stroke="#c98a84" stroke-width="2" fill="none"/>
<path d="M62 872.3v1.8M64.5 872v1.8M67 871.8v1.8M69.5 871.6v1.8M72 871.4v1.8M74.5 871.2v1.8M77 871v1.8" stroke="#d09a94" stroke-width="0.45"/>
<path d="M104.5 876 C108 877 111 878.5 113 880.5" stroke="#c98a84" stroke-width="1.2" fill="none"/>
<path d="M105.5 884 C101 885.5 97.8 887.5 99 890 C100.5 893 106 895 110 897.5 C112 899 112.3 901 111.5 902.5" stroke="#c98a84" stroke-width="2.4" fill="none" opacity="0.9"/>
<path d="M105.5 884 C101 885.5 97.8 887.5 99 890 C100.5 893 106 895 110 897.5 C112 899 112.3 901 111.5 902.5" stroke="#e8c9c5" stroke-width="0.7" fill="none" stroke-dasharray="1 1"/>
<path d="M87.3 875.3 L105.7 865.5 L104.6 883.9 Z" fill="url(#cone)"/>
<circle cx="90.8" cy="859.9" r="14.8" fill="#fff" stroke="#8c8c8c" stroke-width="0.7"/>
<path d="M83.7 865 C86 863.5 88 862 90.5 861 C92.5 860.2 94 860 95.4 859.4 M95.4 859.4 C96.5 857.5 97.5 856 98.5 853 M96.4 857.8 L94 853.5 M97.5 856.2 L99.8 854.2 M86.2 863.5 L85 861.5 M87.5 862.6 L88.3 865" stroke="#d08d84" stroke-width="0.9" fill="none"/>
<path d="M94.4 860.4 L108.7 857.9" stroke="#9ccae8" stroke-width="1.3"/>
<path d="M106.6 858.3 L109.2 857.8" stroke="#2f4f6f" stroke-width="1.6"/>
<path d="M109 857.7 L128.1 853.8" stroke="#d8d8d8" stroke-width="2.4"/>
<path d="M117.5 854.4 L118.3 858.3" stroke="#c8c8c8" stroke-width="1.3"/>
<circle cx="130.2" cy="853.3" r="1.8" fill="#ececec" stroke="#c4c4c4" stroke-width="0.6"/>
<path d="M27 871 L20 864.5 M26.5 872.5 L17.5 869 M27 874 L19 875" stroke="#dedede" stroke-width="0.4"/>
</g>
<text x="18.4" y="942.1" font-size="11">Peri-sciatic nerve injection</text>
<line x1="62.5" y1="155.1" x2="62.5" y2="51.82" stroke="#000" stroke-width="1.2"/>
<line x1="59.3" y1="154.5" x2="62.5" y2="154.5" stroke="#000" stroke-width="1.2"/>
<text x="58" y="158.95" font-size="11" text-anchor="end">0.0</text>
<line x1="59.3" y1="120.28" x2="62.5" y2="120.28" stroke="#000" stroke-width="1.2"/>
<text x="58" y="124.73" font-size="11" text-anchor="end">0.5</text>
<line x1="59.3" y1="86.05" x2="62.5" y2="86.05" stroke="#000" stroke-width="1.2"/>
<text x="58" y="90.5" font-size="11" text-anchor="end">1.0</text>
<line x1="59.3" y1="51.82" x2="62.5" y2="51.82" stroke="#000" stroke-width="1.2"/>
<text x="58" y="56.27" font-size="11" text-anchor="end">1.5</text>
<line x1="61.9" y1="154.5" x2="293.7" y2="154.5" stroke="#000" stroke-width="1.2"/>
<line x1="81.3" y1="154.5" x2="81.3" y2="157.5" stroke="#000" stroke-width="1.2"/>
<line x1="120.2" y1="154.5" x2="120.2" y2="157.5" stroke="#000" stroke-width="1.2"/>
<line x1="158.6" y1="154.5" x2="158.6" y2="157.5" stroke="#000" stroke-width="1.2"/>
<line x1="197" y1="154.5" x2="197" y2="157.5" stroke="#000" stroke-width="1.2"/>
<line x1="235.6" y1="154.5" x2="235.6" y2="157.5" stroke="#000" stroke-width="1.2"/>
<line x1="274.5" y1="154.5" x2="274.5" y2="157.5" stroke="#000" stroke-width="1.2"/>
<line x1="357.5" y1="155" x2="357.5" y2="61" stroke="#000" stroke-width="1.2"/>
<line x1="354.2" y1="154.4" x2="357.5" y2="154.4" stroke="#000" stroke-width="1.2"/>
<text x="346.8" y="159.4" font-size="11" text-anchor="middle">0</text>
<line x1="354.2" y1="131.05" x2="357.5" y2="131.05" stroke="#000" stroke-width="1.2"/>
<text x="346.8" y="136.05" font-size="11" text-anchor="middle">5</text>
<line x1="354.2" y1="107.7" x2="357.5" y2="107.7" stroke="#000" stroke-width="1.2"/>
<text x="346.8" y="112.7" font-size="11" text-anchor="middle">10</text>
<line x1="354.2" y1="84.35" x2="357.5" y2="84.35" stroke="#000" stroke-width="1.2"/>
<text x="346.8" y="89.35" font-size="11" text-anchor="middle">15</text>
<line x1="354.2" y1="61" x2="357.5" y2="61" stroke="#000" stroke-width="1.2"/>
<text x="346.8" y="66" font-size="11" text-anchor="middle">20</text>
<line x1="356.9" y1="154.4" x2="504.4" y2="154.4" stroke="#000" stroke-width="1.2"/>
<line x1="365.5" y1="154.4" x2="365.5" y2="157.4" stroke="#000" stroke-width="1.2"/>
<line x1="382" y1="154.4" x2="382" y2="157.4" stroke="#000" stroke-width="1.2"/>
<line x1="398.3" y1="154.4" x2="398.3" y2="157.4" stroke="#000" stroke-width="1.2"/>
<line x1="414.7" y1="154.4" x2="414.7" y2="157.4" stroke="#000" stroke-width="1.2"/>
<line x1="430.7" y1="154.4" x2="430.7" y2="157.4" stroke="#000" stroke-width="1.2"/>
<line x1="446.9" y1="154.4" x2="446.9" y2="157.4" stroke="#000" stroke-width="1.2"/>
<line x1="463.3" y1="154.4" x2="463.3" y2="157.4" stroke="#000" stroke-width="1.2"/>
<line x1="479.5" y1="154.4" x2="479.5" y2="157.4" stroke="#000" stroke-width="1.2"/>
<line x1="496.1" y1="154.4" x2="496.1" y2="157.4" stroke="#000" stroke-width="1.2"/>
<line x1="585.4" y1="158" x2="585.4" y2="62.7" stroke="#000" stroke-width="1.2"/>
<line x1="582.2" y1="157.4" x2="585.4" y2="157.4" stroke="#000" stroke-width="1.2"/>
<text x="572.9" y="162.8" font-size="11" text-anchor="middle">0</text>
<line x1="582.2" y1="138.46" x2="585.4" y2="138.46" stroke="#000" stroke-width="1.2"/>
<text x="572.1" y="143.86" font-size="11" text-anchor="middle">20</text>
<line x1="582.2" y1="119.52" x2="585.4" y2="119.52" stroke="#000" stroke-width="1.2"/>
<text x="572.1" y="124.92" font-size="11" text-anchor="middle">40</text>
<line x1="582.2" y1="100.58" x2="585.4" y2="100.58" stroke="#000" stroke-width="1.2"/>
<text x="572.1" y="105.98" font-size="11" text-anchor="middle">60</text>
<line x1="582.2" y1="81.64" x2="585.4" y2="81.64" stroke="#000" stroke-width="1.2"/>
<text x="572.1" y="87.04" font-size="11" text-anchor="middle">80</text>
<line x1="582.2" y1="62.7" x2="585.4" y2="62.7" stroke="#000" stroke-width="1.2"/>
<text x="572.1" y="68.1" font-size="11" text-anchor="middle">100</text>
<line x1="584.8" y1="157.4" x2="669.6" y2="157.4" stroke="#000" stroke-width="1.2"/>
<line x1="606.7" y1="157.4" x2="606.7" y2="160.4" stroke="#000" stroke-width="1.2"/>
<line x1="649" y1="157.4" x2="649" y2="160.4" stroke="#000" stroke-width="1.2"/>
<line x1="69" y1="502.2" x2="69" y2="381.6" stroke="#000" stroke-width="1.2"/>
<line x1="65" y1="501.6" x2="69" y2="501.6" stroke="#000" stroke-width="1.2"/>
<text x="61.6" y="506.6" font-size="11" text-anchor="end">0</text>
<line x1="65" y1="461.6" x2="69" y2="461.6" stroke="#000" stroke-width="1.2"/>
<text x="63.7" y="466.6" font-size="11" text-anchor="end">0.5</text>
<line x1="65" y1="421.6" x2="69" y2="421.6" stroke="#000" stroke-width="1.2"/>
<text x="63.7" y="426.6" font-size="11" text-anchor="end">1.0</text>
<line x1="65" y1="381.6" x2="69" y2="381.6" stroke="#000" stroke-width="1.2"/>
<text x="63.7" y="386.6" font-size="11" text-anchor="end">1.5</text>
<line x1="68.4" y1="501.6" x2="320.1" y2="501.6" stroke="#000" stroke-width="1.2"/>
<line x1="77.4" y1="501.6" x2="77.4" y2="506.1" stroke="#000" stroke-width="1.2"/>
<line x1="95.4" y1="501.6" x2="95.4" y2="506.1" stroke="#000" stroke-width="1.2"/>
<line x1="113.4" y1="501.6" x2="113.4" y2="506.1" stroke="#000" stroke-width="1.2"/>
<line x1="131.37" y1="501.6" x2="131.37" y2="506.1" stroke="#000" stroke-width="1.2"/>
<line x1="149.34" y1="501.6" x2="149.34" y2="506.1" stroke="#000" stroke-width="1.2"/>
<line x1="167.31" y1="501.6" x2="167.31" y2="506.1" stroke="#000" stroke-width="1.2"/>
<line x1="185.28" y1="501.6" x2="185.28" y2="506.1" stroke="#000" stroke-width="1.2"/>
<line x1="203.25" y1="501.6" x2="203.25" y2="506.1" stroke="#000" stroke-width="1.2"/>
<line x1="221.22" y1="501.6" x2="221.22" y2="506.1" stroke="#000" stroke-width="1.2"/>
<line x1="239.19" y1="501.6" x2="239.19" y2="506.1" stroke="#000" stroke-width="1.2"/>
<line x1="257.16" y1="501.6" x2="257.16" y2="506.1" stroke="#000" stroke-width="1.2"/>
<line x1="275.13" y1="501.6" x2="275.13" y2="506.1" stroke="#000" stroke-width="1.2"/>
<line x1="293.1" y1="501.6" x2="293.1" y2="506.1" stroke="#000" stroke-width="1.2"/>
<line x1="311.07" y1="501.6" x2="311.07" y2="506.1" stroke="#000" stroke-width="1.2"/>
<line x1="415.5" y1="503.4" x2="415.5" y2="373.02" stroke="#000" stroke-width="1.2"/>
<line x1="412" y1="502.8" x2="415.5" y2="502.8" stroke="#000" stroke-width="1.2"/>
<text x="410.1" y="508.2" font-size="11" text-anchor="end">0</text>
<line x1="412" y1="459.54" x2="415.5" y2="459.54" stroke="#000" stroke-width="1.2"/>
<text x="410.1" y="464.94" font-size="11" text-anchor="end">20</text>
<line x1="412" y1="416.28" x2="415.5" y2="416.28" stroke="#000" stroke-width="1.2"/>
<text x="410.1" y="421.68" font-size="11" text-anchor="end">40</text>
<line x1="412" y1="373.02" x2="415.5" y2="373.02" stroke="#000" stroke-width="1.2"/>
<text x="410.1" y="378.42" font-size="11" text-anchor="end">60</text>
<line x1="414.9" y1="502.8" x2="670.3" y2="502.8" stroke="#000" stroke-width="1.2"/>
<line x1="424.5" y1="502.8" x2="424.5" y2="507.3" stroke="#000" stroke-width="1.2"/>
<line x1="442.65" y1="502.8" x2="442.65" y2="507.3" stroke="#000" stroke-width="1.2"/>
<line x1="460.8" y1="502.8" x2="460.8" y2="507.3" stroke="#000" stroke-width="1.2"/>
<line x1="478.95" y1="502.8" x2="478.95" y2="507.3" stroke="#000" stroke-width="1.2"/>
<line x1="497.1" y1="502.8" x2="497.1" y2="507.3" stroke="#000" stroke-width="1.2"/>
<line x1="515.25" y1="502.8" x2="515.25" y2="507.3" stroke="#000" stroke-width="1.2"/>
<line x1="533.4" y1="502.8" x2="533.4" y2="507.3" stroke="#000" stroke-width="1.2"/>
<line x1="551.55" y1="502.8" x2="551.55" y2="507.3" stroke="#000" stroke-width="1.2"/>
<line x1="569.7" y1="502.8" x2="569.7" y2="507.3" stroke="#000" stroke-width="1.2"/>
<line x1="587.85" y1="502.8" x2="587.85" y2="507.3" stroke="#000" stroke-width="1.2"/>
<line x1="606" y1="502.8" x2="606" y2="507.3" stroke="#000" stroke-width="1.2"/>
<line x1="624.15" y1="502.8" x2="624.15" y2="507.3" stroke="#000" stroke-width="1.2"/>
<line x1="642.3" y1="502.8" x2="642.3" y2="507.3" stroke="#000" stroke-width="1.2"/>
<line x1="660.45" y1="502.8" x2="660.45" y2="507.3" stroke="#000" stroke-width="1.2"/>
<line x1="56.4" y1="770.1" x2="56.4" y2="648.7" stroke="#000" stroke-width="1.2"/>
<line x1="53.4" y1="769.5" x2="56.4" y2="769.5" stroke="#000" stroke-width="1.2"/>
<text x="51.6" y="774.8" font-size="11" text-anchor="end">0</text>
<line x1="53.4" y1="739.3" x2="56.4" y2="739.3" stroke="#000" stroke-width="1.2"/>
<text x="51.6" y="744.6" font-size="11" text-anchor="end">2</text>
<line x1="53.4" y1="709.1" x2="56.4" y2="709.1" stroke="#000" stroke-width="1.2"/>
<text x="51.6" y="714.4" font-size="11" text-anchor="end">4</text>
<line x1="53.4" y1="678.9" x2="56.4" y2="678.9" stroke="#000" stroke-width="1.2"/>
<text x="51.6" y="684.2" font-size="11" text-anchor="end">6</text>
<line x1="53.4" y1="648.7" x2="56.4" y2="648.7" stroke="#000" stroke-width="1.2"/>
<text x="51.6" y="654" font-size="11" text-anchor="end">8</text>
<line x1="55.8" y1="769.5" x2="137.5" y2="769.5" stroke="#000" stroke-width="1.2"/>
<line x1="210.8" y1="768.9" x2="210.8" y2="649.5" stroke="#000" stroke-width="1.2"/>
<line x1="207.5" y1="768.3" x2="210.8" y2="768.3" stroke="#000" stroke-width="1.2"/>
<text x="203.1" y="774" font-size="11" text-anchor="end">0</text>
<line x1="207.5" y1="738.6" x2="210.8" y2="738.6" stroke="#000" stroke-width="1.2"/>
<text x="205.2" y="744.3" font-size="11" text-anchor="end">200</text>
<line x1="207.5" y1="708.9" x2="210.8" y2="708.9" stroke="#000" stroke-width="1.2"/>
<text x="205.2" y="714.6" font-size="11" text-anchor="end">400</text>
<line x1="207.5" y1="679.2" x2="210.8" y2="679.2" stroke="#000" stroke-width="1.2"/>
<text x="205.2" y="684.9" font-size="11" text-anchor="end">600</text>
<line x1="207.5" y1="649.5" x2="210.8" y2="649.5" stroke="#000" stroke-width="1.2"/>
<text x="205.2" y="655.2" font-size="11" text-anchor="end">800</text>
<line x1="210.2" y1="768.3" x2="292.4" y2="768.3" stroke="#000" stroke-width="1.2"/>
<line x1="367.8" y1="730" x2="367.8" y2="610.2" stroke="#000" stroke-width="1.2"/>
<line x1="364.7" y1="729.4" x2="367.8" y2="729.4" stroke="#000" stroke-width="1.2"/>
<text x="361.7" y="733.8" font-size="11" text-anchor="end">0</text>
<line x1="364.7" y1="669.8" x2="367.8" y2="669.8" stroke="#000" stroke-width="1.2"/>
<text x="362.2" y="674.2" font-size="11" text-anchor="end">50</text>
<line x1="364.7" y1="610.2" x2="367.8" y2="610.2" stroke="#000" stroke-width="1.2"/>
<text x="364" y="614.6" font-size="11" text-anchor="end">100</text>
<line x1="367.2" y1="729.4" x2="685" y2="729.4" stroke="#000" stroke-width="1.2"/>
<line x1="379.4" y1="729.4" x2="379.4" y2="732.4" stroke="#000" stroke-width="1.2"/>
<line x1="405.5" y1="729.4" x2="405.5" y2="732.4" stroke="#000" stroke-width="1.2"/>
<line x1="432.6" y1="729.4" x2="432.6" y2="732.4" stroke="#000" stroke-width="1.2"/>
<line x1="459" y1="729.4" x2="459" y2="732.4" stroke="#000" stroke-width="1.2"/>
<line x1="485.9" y1="729.4" x2="485.9" y2="732.4" stroke="#000" stroke-width="1.2"/>
<line x1="512.8" y1="729.4" x2="512.8" y2="732.4" stroke="#000" stroke-width="1.2"/>
<line x1="539.4" y1="729.4" x2="539.4" y2="732.4" stroke="#000" stroke-width="1.2"/>
<line x1="565.7" y1="729.4" x2="565.7" y2="732.4" stroke="#000" stroke-width="1.2"/>
<line x1="592.1" y1="729.4" x2="592.1" y2="732.4" stroke="#000" stroke-width="1.2"/>
<line x1="618.4" y1="729.4" x2="618.4" y2="732.4" stroke="#000" stroke-width="1.2"/>
<line x1="645.3" y1="729.4" x2="645.3" y2="732.4" stroke="#000" stroke-width="1.2"/>
<line x1="671.7" y1="729.4" x2="671.7" y2="732.4" stroke="#000" stroke-width="1.2"/>
<line x1="225.8" y1="953.7" x2="225.8" y2="843.1" stroke="#000" stroke-width="1.2"/>
<line x1="220.3" y1="953.1" x2="225.8" y2="953.1" stroke="#000" stroke-width="1.2"/>
<text x="215.2" y="958.7" font-size="11" text-anchor="end">0.0</text>
<line x1="220.3" y1="925.6" x2="225.8" y2="925.6" stroke="#000" stroke-width="1.2"/>
<text x="215.2" y="931.2" font-size="11" text-anchor="end">0.5</text>
<line x1="220.3" y1="898.1" x2="225.8" y2="898.1" stroke="#000" stroke-width="1.2"/>
<text x="215.2" y="903.7" font-size="11" text-anchor="end">1.0</text>
<line x1="220.3" y1="870.6" x2="225.8" y2="870.6" stroke="#000" stroke-width="1.2"/>
<text x="215.2" y="876.2" font-size="11" text-anchor="end">1.5</text>
<line x1="220.3" y1="843.1" x2="225.8" y2="843.1" stroke="#000" stroke-width="1.2"/>
<text x="215.2" y="848.7" font-size="11" text-anchor="end">2.0</text>
<line x1="225.2" y1="953.1" x2="404.3" y2="953.1" stroke="#000" stroke-width="1.2"/>
<line x1="239.6" y1="953.1" x2="239.6" y2="956.1" stroke="#000" stroke-width="1.2"/>
<line x1="269.7" y1="953.1" x2="269.7" y2="956.1" stroke="#000" stroke-width="1.2"/>
<line x1="299.7" y1="953.1" x2="299.7" y2="956.1" stroke="#000" stroke-width="1.2"/>
<line x1="330" y1="953.1" x2="330" y2="956.1" stroke="#000" stroke-width="1.2"/>
<line x1="359.9" y1="953.1" x2="359.9" y2="956.1" stroke="#000" stroke-width="1.2"/>
<line x1="390.3" y1="953.1" x2="390.3" y2="956.1" stroke="#000" stroke-width="1.2"/>
<line x1="469.6" y1="952.9" x2="469.6" y2="848.55" stroke="#000" stroke-width="1.2"/>
<line x1="464" y1="952.3" x2="469.6" y2="952.3" stroke="#000" stroke-width="1.2"/>
<text x="456.6" y="957.7" font-size="11" text-anchor="end">0</text>
<line x1="464" y1="931.55" x2="469.6" y2="931.55" stroke="#000" stroke-width="1.2"/>
<text x="457.2" y="936.95" font-size="11" text-anchor="end">10</text>
<line x1="464" y1="910.8" x2="469.6" y2="910.8" stroke="#000" stroke-width="1.2"/>
<text x="457.2" y="916.2" font-size="11" text-anchor="end">20</text>
<line x1="464" y1="890.05" x2="469.6" y2="890.05" stroke="#000" stroke-width="1.2"/>
<text x="457.2" y="895.45" font-size="11" text-anchor="end">30</text>
<line x1="464" y1="869.3" x2="469.6" y2="869.3" stroke="#000" stroke-width="1.2"/>
<text x="457.2" y="874.7" font-size="11" text-anchor="end">40</text>
<line x1="464" y1="848.55" x2="469.6" y2="848.55" stroke="#000" stroke-width="1.2"/>
<text x="457.2" y="853.95" font-size="11" text-anchor="end">50</text>
<line x1="469" y1="952.3" x2="670.8" y2="952.3" stroke="#000" stroke-width="1.2"/>
<line x1="484.5" y1="952.3" x2="484.5" y2="955.3" stroke="#000" stroke-width="1.2"/>
<line x1="518.5" y1="952.3" x2="518.5" y2="955.3" stroke="#000" stroke-width="1.2"/>
<line x1="552.6" y1="952.3" x2="552.6" y2="955.3" stroke="#000" stroke-width="1.2"/>
<line x1="586.6" y1="952.3" x2="586.6" y2="955.3" stroke="#000" stroke-width="1.2"/>
<line x1="620.5" y1="952.3" x2="620.5" y2="955.3" stroke="#000" stroke-width="1.2"/>
<line x1="654.9" y1="952.3" x2="654.9" y2="955.3" stroke="#000" stroke-width="1.2"/>
</svg></body></html>
